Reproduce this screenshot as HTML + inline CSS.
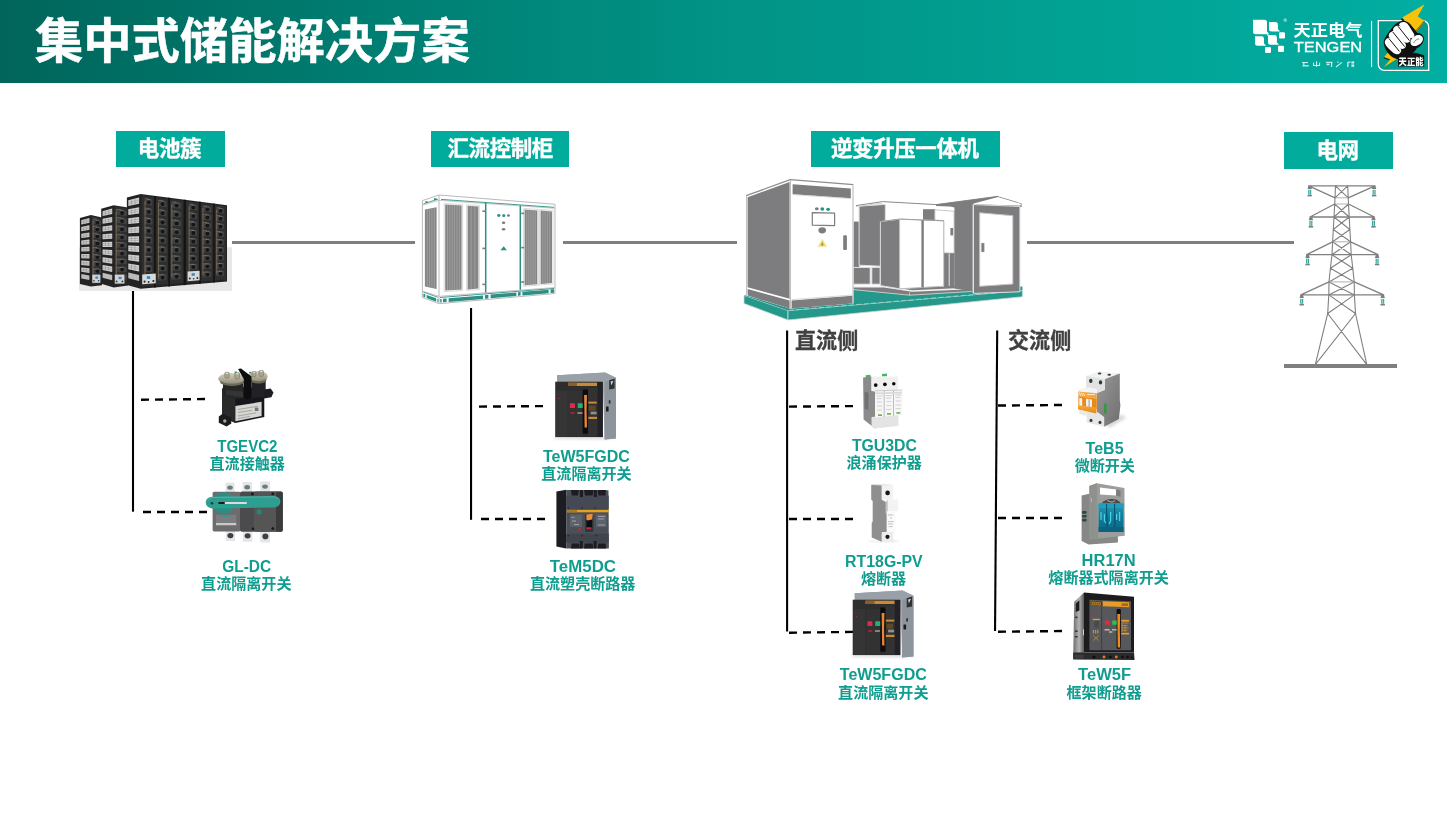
<!DOCTYPE html>
<html lang="zh-CN">
<head>
<meta charset="utf-8">
<title>集中式储能解决方案</title>
<style>
html,body{margin:0;padding:0;background:#fff;}
body{width:1447px;height:816px;position:relative;overflow:hidden;font-family:"Liberation Sans","Noto Sans CJK SC",sans-serif;}
#stage{position:absolute;left:0;top:0;width:1447px;height:816px;will-change:transform;}
#hdr{position:absolute;left:0;top:0;width:1447px;height:82.65px;background:linear-gradient(90deg,#01655b 0%,#007d71 25%,#019386 50%,#01a294 75%,#02aea2 100%);}
#title{position:absolute;left:35px;top:6px;margin:0;font-size:48.3px;line-height:70px;font-weight:700;color:#fff;white-space:nowrap;letter-spacing:0;-webkit-text-stroke:.5px #fff;}
.tag{position:absolute;background:#01ac9d;color:#fff;font-weight:700;font-size:21.5px;letter-spacing:-.4px;text-indent:.4px;text-align:center;white-space:nowrap;height:35.5px;padding-top:.5px;line-height:36px;top:130.9px;-webkit-text-stroke:.35px #fff;}
.hl{position:absolute;height:3px;background:#7f7f7f;}
.vl{position:absolute;width:2px;background:#000;}
.dl{position:absolute;height:2px;background:repeating-linear-gradient(90deg,#000 0 9px,transparent 9px 14px);}
.side{position:absolute;font-size:21.1px;line-height:24px;font-weight:700;color:#404040;white-space:nowrap;-webkit-text-stroke:.3px #404040;}
svg{position:absolute;left:0;top:0;}
.pn{font-family:"Liberation Sans","Noto Sans CJK SC",sans-serif;font-weight:700;fill:#0f9d8f;}
</style>
</head>
<body>
<div id="stage">
<div id="hdr"></div>
<h1 id="title">集中式储能解决方案</h1>

<div class="tag" style="left:116px;width:109px;text-indent:-2px;">电池簇</div>
<div class="tag" style="left:431px;width:138px;">汇流控制柜</div>
<div class="tag" style="left:811px;width:189px;text-indent:-1.4px;">逆变升压一体机</div>
<div class="tag" style="left:1284px;top:131.9px;width:109px;text-indent:-1.8px;height:35.5px;padding-top:1.5px;line-height:37px;">电网</div>

<div class="hl" style="left:232px;top:241px;width:183px;"></div>
<div class="hl" style="left:563px;top:241px;width:174px;"></div>
<div class="hl" style="left:1027px;top:241px;width:267px;"></div>
<div class="hl" style="left:1284px;top:364px;width:113px;height:3.6px;"></div>



<div class="side" style="left:795px;top:328.5px;">直流侧</div>
<div class="side" style="left:1008px;top:328.5px;">交流侧</div>

<svg id="gfx" width="1447" height="816" viewBox="0 0 1447 816">
<!-- header logo -->
<g id="logo">
  <g fill="#fff">
    <path d="M1253 19.8h11.4a2.6 2.6 0 0 1 2.6 2.6v9.2l2.4 2.6h-2.4l-0.2 0h-11.2a2.6 2.6 0 0 1-2.6-2.6z"/>
    <path d="M1269 22h6.4a2.5 2.5 0 0 1 2.5 2.5v4.5l2.2 2.4h-8.6a2.5 2.5 0 0 1-2.5-2.5z"/>
    <rect x="1279" y="32.3" width="6" height="6.2" rx="1.2"/>
    <path d="M1255 36.3h6.6a2.4 2.4 0 0 1 2.4 2.4v4.8l2.2 2.3h-8.8a2.4 2.4 0 0 1-2.4-2.4z"/>
    <path d="M1266.5 33.5l2 1.6h6a2.4 2.4 0 0 1 2.4 2.4v5l2.2 2.3h-8.7a2.4 2.4 0 0 1-2.4-2.4v-6z"/>
    <rect x="1265" y="47" width="6" height="6" rx="1.2"/>
    <rect x="1278" y="45.8" width="6" height="6.1" rx="1.2"/>
  </g>
  <circle cx="1285.2" cy="20.1" r="1.9" fill="#fff" fill-opacity=".45"/>
  <text x="1293.6" y="35.8" font-family="'Liberation Sans','Noto Sans CJK SC',sans-serif" font-weight="700" font-size="16.4" fill="#fff" textLength="68.8" lengthAdjust="spacingAndGlyphs">天正电气</text>
  <text x="1293.8" y="52.4" font-family="'Liberation Sans',sans-serif" font-weight="400" font-size="14.8" fill="#fff" stroke="#fff" stroke-width=".35" textLength="68.4" lengthAdjust="spacingAndGlyphs">TENGEN</text>
  <!-- slogan under the wordmark is illegible in the source (≈5px tall); shown as faint placeholder ticks -->
  <g fill="#fff" fill-opacity=".8">
    <rect x="1302" y="62" width="6" height="1.1"/><rect x="1302.4" y="65.2" width="6.4" height="1.3"/><rect x="1303.2" y="63" width="1.2" height="2.4"/>
    <rect x="1313" y="62.6" width="1.1" height="3.2"/><rect x="1316" y="61.2" width="1.1" height="5.6"/><rect x="1319" y="62.6" width="1.1" height="3.2"/><rect x="1313" y="65" width="7" height="1"/>
    <rect x="1326" y="61.8" width="6.4" height="1.1"/><rect x="1331" y="62" width="1.2" height="5"/><rect x="1326.6" y="63.6" width="3" height="1.6"/>
    <path d="M1335.6 66.6l6-4.6 .7 .8-6 4.6z"/><rect x="1337" y="61.6" width="1.6" height="1"/>
    <rect x="1347.2" y="62" width="1.3" height="5"/><rect x="1348" y="61.6" width="2.6" height="1.1"/><rect x="1351.4" y="61.4" width="2.8" height="2.2"/><rect x="1351.4" y="64.4" width="2.8" height="2.4"/>
  </g>
  <rect x="1371" y="21" width="1.1" height="46" fill="#fff"/>
  <!-- mascot badge -->
  <path d="M1378.3 20.7h44.4a6 6 0 0 1 6 6v43.6h-44.4a6 6 0 0 1-6-6z" fill="#009c8e" stroke="#fff" stroke-width="1.3"/>
  <g id="bolt">
    <path d="M1424.6 4.3l-22.4 13.2 4 4.2 9.400 9.300 8.800-10.200-6.700-4.400z" fill="#f8c20a"/>
    <path d="M1401.800 17.900l-.9 1.500 14.500 12.800 9.300-10.800-.3-.8-8.800 10.200z" fill="#1a1a1a"/>
    <path d="M1424.400 20.800l.4 .900-9.300 10.800-.6-1z" fill="#b88a06"/>
    <path d="M1388.400 52l9.200 6.600-13.600 8.500 6.300-7.700-6.300-2.100z" fill="#f8c20a"/>
    <path d="M1384 57.300l-.6 1 5.600 1.800 1.300-.7z" fill="#1a1a1a"/>
  </g>
  <g id="fist">
    <path d="M1383.800 43.500c-.8-3 2.600-8.600 6.600-13.600 3.200-4.800 7-8 11-9 4.200-1 8 1.600 10.200 4.800l5.800 7.400c3.200 0 6.200 2 6.400 5.200 .2 4-2.800 8-7 10-2 4-6 7-10 8-4 3-8.200 4-12.200 2-5.200-2.200-9.800-8.400-10.800-14.800z" fill="#111"/>
    <path d="M1385 43.600c-.8-2.400 .8-4.800 3.200-5.600 2.200-.8 4.200 .2 5.800 2.400l6.600 8.200c1.200 1.800 .8 3.600-1 4.800-2.200 1.400-4.600 1-6.400-.6-3.200-2.600-7-6-8.200-9.200z" fill="#fff"/>
    <path d="M1388.800 36.800c-.6-2.400 .8-4.600 3.200-5.400 2.200-.8 4.400 0 6 2.200l7.200 9.600c1.200 1.800 1 3.800-.8 5-2 1.200-4.200 .8-5.800-1z" fill="#fff"/>
    <path d="M1393 30.400c0-2.400 1.800-4.200 4-4.600 2.200-.6 4.200 .4 5.600 2.200l7.200 9.400c1.200 1.800 .8 3.800-1 4.800-2 1.200-4 .6-5.600-1.200z" fill="#fff"/>
    <path d="M1399 24.800c.6-2 2.600-3 4.800-2.800 2 .2 3.600 1.400 4.800 3.200l5.200 8.200c1 1.600 .6 3.400-1 4.400-1.800 1-3.600 .4-4.800-1.200z" fill="#fff"/>
    <path d="M1410.800 44c-1-2.800 .6-5.800 3.400-7.600 2.800-1.800 6.400-1.800 8 .4 1.600 2.200 .4 5.200-2.200 7.200-3 2.400-7.800 3.200-9.200 0z" fill="#fff"/>
    <path d="M1413.6 43c1-2.400 3.400-4 5.800-4.200" fill="none" stroke="#8a8a8a" stroke-width="1"/>
    <path d="M1388.800 38.400L1399.400 51.400M1392.800 32L1404.600 46.600M1398 26.200L1409.400 40.600" fill="none" stroke="#111" stroke-width="1"/>
  </g>
  <path d="M1398 56.600l17.600-3.800 8.600 2.400v11.400h-26.200z" fill="#111"/>
  <text x="1398.600" y="65.200" font-family="'Liberation Sans','Noto Sans CJK SC',sans-serif" font-weight="900" font-size="9.4" fill="#fff" textLength="25" lengthAdjust="spacingAndGlyphs">天正能</text>
</g>

<!-- connector lines -->
<g id="lines" stroke="#000" fill="none">
<line x1="133.0" y1="291" x2="133.0" y2="511.7" stroke-width="2.1"/>
<line x1="471.05" y1="308" x2="471.05" y2="519.8" stroke-width="2.1"/>
<line x1="787.1" y1="330.6" x2="787.1" y2="631.4" stroke-width="2.1"/>
<line x1="997.2" y1="330.6" x2="995.05" y2="631.1" stroke-width="2.1"/>
<line x1="141" y1="399.75" x2="205" y2="399.05" stroke-width="2.4" stroke-dasharray="8 6"/>
<line x1="143" y1="512" x2="207" y2="512" stroke-width="2.4" stroke-dasharray="8 6"/>
<line x1="479" y1="406.6" x2="543" y2="406.1" stroke-width="2.4" stroke-dasharray="8 6"/>
<line x1="481" y1="519.0" x2="545" y2="519.0" stroke-width="2.4" stroke-dasharray="8 6"/>
<line x1="789" y1="406.6" x2="853" y2="406.1" stroke-width="2.4" stroke-dasharray="8 6"/>
<line x1="789" y1="519.0" x2="853" y2="519.0" stroke-width="2.4" stroke-dasharray="8 6"/>
<line x1="789" y1="632.7" x2="853" y2="631.9" stroke-width="2.4" stroke-dasharray="8 6"/>
<line x1="998" y1="405.55" x2="1062" y2="405.0" stroke-width="2.4" stroke-dasharray="8 6"/>
<line x1="998" y1="518.0" x2="1062" y2="518.0" stroke-width="2.4" stroke-dasharray="8 6"/>
<line x1="998" y1="631.75" x2="1062" y2="631.05" stroke-width="2.4" stroke-dasharray="8 6"/>
</g>
<!-- battery cluster -->
<g id="battery">
<rect x="79" y="247.3" width="153" height="43.6" fill="#e7e7e7"/>
<path d="M79.9 218L90.9 214.9L102 217.6L102 285.2L90.9 286.6L79.9 284.1Z" fill="#232323"/>
<path d="M91.9 216.1L101 218.79999999999998L101 283.2L91.9 284.40000000000003Z" fill="#2e2e2e"/>
<path d="M81.3 220.3L89.4 218.1L89.4 222.7L81.3 224.6Z" fill="#d4d4d4"/>
<path d="M81.3 221.8L89.4 219.7M81.3 223.2L89.4 221.2M83.7 219.6L83.7 224.0M86.3 218.9L86.3 223.4" stroke="#8f8f8f" stroke-width=".55" fill="none"/>
<path d="M81.3 227.0L89.4 225.2L89.4 229.8L81.3 231.3Z" fill="#d4d4d4"/>
<path d="M81.3 228.6L89.4 226.9M81.3 229.9L89.4 228.4M83.7 226.5L83.7 230.9M86.3 225.9L86.3 230.4" stroke="#8f8f8f" stroke-width=".55" fill="none"/>
<path d="M81.3 233.7L89.4 232.4L89.4 237.0L81.3 238.0Z" fill="#d4d4d4"/>
<path d="M81.3 235.3L89.4 234.1M81.3 236.7L89.4 235.5M83.7 233.3L83.7 237.7M86.3 232.9L86.3 237.4" stroke="#8f8f8f" stroke-width=".55" fill="none"/>
<path d="M81.3 240.5L89.4 239.6L89.4 244.2L81.3 244.8Z" fill="#d4d4d4"/>
<path d="M81.3 242.0L89.4 241.2M81.3 243.4L89.4 242.7M83.7 240.2L83.7 244.6M86.3 239.9L86.3 244.4" stroke="#8f8f8f" stroke-width=".55" fill="none"/>
<path d="M81.3 247.2L89.4 246.8L89.4 251.3L81.3 251.5Z" fill="#d4d4d4"/>
<path d="M81.3 248.7L89.4 248.4M81.3 250.1L89.4 249.9M83.7 247.1L83.7 251.4M86.3 246.9L86.3 251.4" stroke="#8f8f8f" stroke-width=".55" fill="none"/>
<path d="M81.3 253.9L89.4 253.9L89.4 258.5L81.3 258.2Z" fill="#d4d4d4"/>
<path d="M81.3 255.5L89.4 255.6M81.3 256.8L89.4 257.0M83.7 253.9L83.7 258.3M86.3 253.9L86.3 258.4" stroke="#8f8f8f" stroke-width=".55" fill="none"/>
<path d="M81.3 260.6L89.4 261.1L89.4 265.7L81.3 264.9Z" fill="#d4d4d4"/>
<path d="M81.3 262.2L89.4 262.8M81.3 263.6L89.4 264.2M83.7 260.8L83.7 265.2M86.3 260.9L86.3 265.4" stroke="#8f8f8f" stroke-width=".55" fill="none"/>
<path d="M81.3 267.4L89.4 268.3L89.4 272.9L81.3 271.7Z" fill="#d4d4d4"/>
<path d="M81.3 268.9L89.4 269.9M81.3 270.3L89.4 271.4M83.7 267.6L83.7 272.0M86.3 267.9L86.3 272.4" stroke="#8f8f8f" stroke-width=".55" fill="none"/>
<path d="M81.3 274.1L89.4 275.4L89.4 280.0L81.3 278.4Z" fill="#bcbcbc"/>
<path d="M92.5 218.7L101.4 220.8L101.4 225.3L92.5 223.4Z" fill="#414141"/>
<circle cx="97.4" cy="222.4" r="1.9" fill="#151515"/>
<path d="M95.8 220.4h3.4" stroke="#7b8790" stroke-width=".6" fill="none"/>
<path d="M92.5 225.9L101.4 227.6L101.4 232.1L92.5 230.6Z" fill="#414141"/>
<circle cx="97.4" cy="229.3" r="1.9" fill="#151515"/>
<path d="M95.8 227.3h3.4" stroke="#7b8790" stroke-width=".6" fill="none"/>
<path d="M92.5 233.0L101.4 234.4L101.4 238.9L92.5 237.7Z" fill="#414141"/>
<circle cx="97.4" cy="236.3" r="1.9" fill="#151515"/>
<path d="M95.8 234.3h3.4" stroke="#7b8790" stroke-width=".6" fill="none"/>
<path d="M92.5 240.2L101.4 241.2L101.4 245.7L92.5 244.9Z" fill="#414141"/>
<circle cx="97.4" cy="243.2" r="1.9" fill="#151515"/>
<path d="M95.8 241.2h3.4" stroke="#7b8790" stroke-width=".6" fill="none"/>
<path d="M92.5 247.3L101.4 248.0L101.4 252.5L92.5 252.0Z" fill="#414141"/>
<circle cx="97.4" cy="250.2" r="1.9" fill="#151515"/>
<path d="M95.8 248.2h3.4" stroke="#7b8790" stroke-width=".6" fill="none"/>
<path d="M92.5 254.5L101.4 254.8L101.4 259.3L92.5 259.2Z" fill="#414141"/>
<circle cx="97.4" cy="257.1" r="1.9" fill="#151515"/>
<path d="M95.8 255.1h3.4" stroke="#7b8790" stroke-width=".6" fill="none"/>
<path d="M92.5 261.6L101.4 261.6L101.4 266.0L92.5 266.3Z" fill="#414141"/>
<circle cx="97.4" cy="264.1" r="1.9" fill="#151515"/>
<path d="M95.8 262.1h3.4" stroke="#7b8790" stroke-width=".6" fill="none"/>
<path d="M92.5 268.7L101.4 268.4L101.4 272.8L92.5 273.5Z" fill="#414141"/>
<circle cx="97.4" cy="271.0" r="1.9" fill="#151515"/>
<path d="M95.8 269.0h3.4" stroke="#7b8790" stroke-width=".6" fill="none"/>
<path d="M92.5 275.9L101.4 275.1L101.4 279.6L92.5 280.6Z" fill="#414141"/>
<circle cx="97.4" cy="278.0" r="1.9" fill="#151515"/>
<path d="M95.8 276.0h3.4" stroke="#7b8790" stroke-width=".6" fill="none"/>
<path d="M93.0 220.7L93.0 278.7" stroke="#8d7a64" stroke-width=".7" fill="none"/>
<path d="M93.0 219.0h4.0M93.0 226.1h4.0M93.0 233.2h4.0M93.0 240.4h4.0M93.0 247.5h4.0M93.0 254.6h4.0M93.0 261.7h4.0M93.0 268.9h4.0M93.0 276.0h4.0" stroke="#8d7a64" stroke-width=".6" fill="none"/>
<rect x="92.3" y="274.6" width="8" height="8.2" fill="#d4d4d4"/><rect x="95.4" y="276.5" width="2.8" height="2.2" fill="#2a8bd8"/><circle cx="94" cy="280.8" r=".8" fill="#333"/><circle cx="98.6" cy="280.8" r=".8" fill="#333"/>
<path d="M101.2 208.7L113.7 205.3L128 207.4L128 285.6L113.7 287.4L101.2 283.7Z" fill="#232323"/>
<path d="M114.7 206.5L127 208.6L127 283.6L114.7 285.2Z" fill="#2e2e2e"/>
<path d="M102.6 211.2L112.2 208.6L112.2 213.9L102.6 216.1Z" fill="#d4d4d4"/>
<path d="M102.6 212.9L112.2 210.5M102.6 214.5L112.2 212.2M105.5 210.4L105.5 215.4M108.6 209.6L108.6 214.8" stroke="#8f8f8f" stroke-width=".55" fill="none"/>
<path d="M102.6 218.8L112.2 216.9L112.2 222.2L102.6 223.8Z" fill="#d4d4d4"/>
<path d="M102.6 220.6L112.2 218.8M102.6 222.2L112.2 220.5M105.5 218.3L105.5 223.3M108.6 217.7L108.6 222.8" stroke="#8f8f8f" stroke-width=".55" fill="none"/>
<path d="M102.6 226.5L112.2 225.2L112.2 230.5L102.6 231.5Z" fill="#d4d4d4"/>
<path d="M102.6 228.3L112.2 227.1M102.6 229.9L112.2 228.8M105.5 226.1L105.5 231.2M108.6 225.7L108.6 230.9" stroke="#8f8f8f" stroke-width=".55" fill="none"/>
<path d="M102.6 234.2L112.2 233.5L112.2 238.8L102.6 239.2Z" fill="#d4d4d4"/>
<path d="M102.6 236.0L112.2 235.4M102.6 237.6L112.2 237.1M105.5 234.0L105.5 239.1M108.6 233.8L108.6 238.9" stroke="#8f8f8f" stroke-width=".55" fill="none"/>
<path d="M102.6 241.9L112.2 241.8L112.2 247.1L102.6 246.9Z" fill="#d4d4d4"/>
<path d="M102.6 243.7L112.2 243.7M102.6 245.3L112.2 245.4M105.5 241.9L105.5 246.9M108.6 241.8L108.6 247.0" stroke="#8f8f8f" stroke-width=".55" fill="none"/>
<path d="M102.6 249.6L112.2 250.1L112.2 255.4L102.6 254.6Z" fill="#d4d4d4"/>
<path d="M102.6 251.4L112.2 252.0M102.6 253.0L112.2 253.7M105.5 249.8L105.5 254.8M108.6 249.9L108.6 255.1" stroke="#8f8f8f" stroke-width=".55" fill="none"/>
<path d="M102.6 257.3L112.2 258.4L112.2 263.7L102.6 262.3Z" fill="#d4d4d4"/>
<path d="M102.6 259.1L112.2 260.3M102.6 260.7L112.2 262.0M105.5 257.6L105.5 262.7M108.6 258.0L108.6 263.1" stroke="#8f8f8f" stroke-width=".55" fill="none"/>
<path d="M102.6 265.0L112.2 266.6L112.2 271.9L102.6 270.0Z" fill="#d4d4d4"/>
<path d="M102.6 266.8L112.2 268.5M102.6 268.4L112.2 270.2M105.5 265.5L105.5 270.6M108.6 266.0L108.6 271.2" stroke="#8f8f8f" stroke-width=".55" fill="none"/>
<path d="M102.6 272.7L112.2 274.9L112.2 280.2L102.6 277.7Z" fill="#bcbcbc"/>
<path d="M115.7 209.2L127.3 210.9L127.3 216.1L115.7 214.7Z" fill="#414141"/>
<circle cx="122.1" cy="213.0" r="1.9" fill="#151515"/>
<path d="M120.5 210.6h3.4" stroke="#7b8790" stroke-width=".6" fill="none"/>
<path d="M115.7 217.5L127.3 218.8L127.3 224.1L115.7 223.0Z" fill="#414141"/>
<circle cx="122.1" cy="221.1" r="1.9" fill="#151515"/>
<path d="M120.5 218.7h3.4" stroke="#7b8790" stroke-width=".6" fill="none"/>
<path d="M115.7 225.8L127.3 226.8L127.3 232.0L115.7 231.3Z" fill="#414141"/>
<circle cx="122.1" cy="229.2" r="1.9" fill="#151515"/>
<path d="M120.5 226.8h3.4" stroke="#7b8790" stroke-width=".6" fill="none"/>
<path d="M115.7 234.1L127.3 234.7L127.3 239.9L115.7 239.5Z" fill="#414141"/>
<circle cx="122.1" cy="237.3" r="1.9" fill="#151515"/>
<path d="M120.5 234.9h3.4" stroke="#7b8790" stroke-width=".6" fill="none"/>
<path d="M115.7 242.4L127.3 242.6L127.3 247.9L115.7 247.8Z" fill="#414141"/>
<circle cx="122.1" cy="245.4" r="1.9" fill="#151515"/>
<path d="M120.5 243.0h3.4" stroke="#7b8790" stroke-width=".6" fill="none"/>
<path d="M115.7 250.6L127.3 250.6L127.3 255.8L115.7 256.1Z" fill="#414141"/>
<circle cx="122.1" cy="253.5" r="1.9" fill="#151515"/>
<path d="M120.5 251.1h3.4" stroke="#7b8790" stroke-width=".6" fill="none"/>
<path d="M115.7 258.9L127.3 258.5L127.3 263.7L115.7 264.4Z" fill="#414141"/>
<circle cx="122.1" cy="261.5" r="1.9" fill="#151515"/>
<path d="M120.5 259.2h3.4" stroke="#7b8790" stroke-width=".6" fill="none"/>
<path d="M115.7 267.2L127.3 266.4L127.3 271.7L115.7 272.6Z" fill="#414141"/>
<circle cx="122.1" cy="269.6" r="1.9" fill="#151515"/>
<path d="M120.5 267.3h3.4" stroke="#7b8790" stroke-width=".6" fill="none"/>
<path d="M115.7 275.5L127.3 274.4L127.3 279.6L115.7 280.9Z" fill="#414141"/>
<circle cx="122.1" cy="277.7" r="1.9" fill="#151515"/>
<path d="M120.5 275.4h3.4" stroke="#7b8790" stroke-width=".6" fill="none"/>
<path d="M116.2 211.5L116.2 278.7" stroke="#8d7a64" stroke-width=".7" fill="none"/>
<path d="M116.2 209.5h5.2M116.2 217.7h5.2M116.2 226.0h5.2M116.2 234.3h5.2M116.2 242.5h5.2M116.2 250.8h5.2M116.2 259.1h5.2M116.2 267.3h5.2M116.2 275.6h5.2" stroke="#8d7a64" stroke-width=".6" fill="none"/>
<rect x="114.8" y="274.6" width="9.6" height="9" fill="#d4d4d4"/><rect x="118.6" y="276.8" width="3" height="2.3" fill="#2a8bd8"/><circle cx="116.6" cy="281.4" r=".9" fill="#333"/><circle cx="122.4" cy="281.4" r=".9" fill="#333"/>
<path d="M126.9 197.6L140.6 194L227 205.3L227 281.5L140.6 288.8L126.9 285Z" fill="#232323"/>
<path d="M141.6 195.2L226 206.5L226 279.5L141.6 286.6Z" fill="#2e2e2e"/>
<path d="M128.3 200.3L139.1 197.5L139.1 203.7L128.3 206.1Z" fill="#d4d4d4"/>
<path d="M128.3 202.4L139.1 199.8M128.3 204.2L139.1 201.7M131.5 199.5L131.5 205.4M135.0 198.6L135.0 204.6" stroke="#8f8f8f" stroke-width=".55" fill="none"/>
<path d="M128.3 209.3L139.1 207.2L139.1 213.4L128.3 215.1Z" fill="#d4d4d4"/>
<path d="M128.3 211.4L139.1 209.4M128.3 213.2L139.1 211.4M131.5 208.7L131.5 214.6M135.0 208.0L135.0 214.0" stroke="#8f8f8f" stroke-width=".55" fill="none"/>
<path d="M128.3 218.3L139.1 216.9L139.1 223.1L128.3 224.1Z" fill="#d4d4d4"/>
<path d="M128.3 220.4L139.1 219.1M128.3 222.3L139.1 221.1M131.5 217.9L131.5 223.8M135.0 217.4L135.0 223.5" stroke="#8f8f8f" stroke-width=".55" fill="none"/>
<path d="M128.3 227.4L139.1 226.5L139.1 232.7L128.3 233.2Z" fill="#d4d4d4"/>
<path d="M128.3 229.5L139.1 228.8M128.3 231.3L139.1 230.7M131.5 227.1L131.5 233.0M135.0 226.9L135.0 232.9" stroke="#8f8f8f" stroke-width=".55" fill="none"/>
<path d="M128.3 236.4L139.1 236.2L139.1 242.4L128.3 242.2Z" fill="#d4d4d4"/>
<path d="M128.3 238.5L139.1 238.4M128.3 240.3L139.1 240.4M131.5 236.3L131.5 242.2M135.0 236.3L135.0 242.3" stroke="#8f8f8f" stroke-width=".55" fill="none"/>
<path d="M128.3 245.4L139.1 245.9L139.1 252.0L128.3 251.2Z" fill="#d4d4d4"/>
<path d="M128.3 247.5L139.1 248.1M128.3 249.4L139.1 250.1M131.5 245.6L131.5 251.5M135.0 245.7L135.0 251.7" stroke="#8f8f8f" stroke-width=".55" fill="none"/>
<path d="M128.3 254.5L139.1 255.5L139.1 261.7L128.3 260.3Z" fill="#d4d4d4"/>
<path d="M128.3 256.6L139.1 257.7M128.3 258.4L139.1 259.7M131.5 254.8L131.5 260.7M135.0 255.1L135.0 261.2" stroke="#8f8f8f" stroke-width=".55" fill="none"/>
<path d="M128.3 263.5L139.1 265.2L139.1 271.4L128.3 269.3Z" fill="#d4d4d4"/>
<path d="M128.3 265.6L139.1 267.4M128.3 267.4L139.1 269.4M131.5 264.0L131.5 269.9M135.0 264.5L135.0 270.6" stroke="#8f8f8f" stroke-width=".55" fill="none"/>
<path d="M128.3 272.5L139.1 274.9L139.1 281.0L128.3 278.3Z" fill="#bcbcbc"/>
<path d="M144.5 198.4L152.3 199.4L152.3 205.6L144.5 204.8Z" fill="#414141"/>
<circle cx="148.8" cy="202.3" r="1.9" fill="#151515"/>
<path d="M147.2 199.5h3.4" stroke="#7b8790" stroke-width=".6" fill="none"/>
<path d="M144.5 208.0L152.3 208.8L152.3 215.1L144.5 214.4Z" fill="#414141"/>
<circle cx="148.8" cy="211.8" r="1.9" fill="#151515"/>
<path d="M147.2 209.0h3.4" stroke="#7b8790" stroke-width=".6" fill="none"/>
<path d="M144.5 217.7L152.3 218.3L152.3 224.5L144.5 224.0Z" fill="#414141"/>
<circle cx="148.8" cy="221.3" r="1.9" fill="#151515"/>
<path d="M147.2 218.5h3.4" stroke="#7b8790" stroke-width=".6" fill="none"/>
<path d="M144.5 227.3L152.3 227.7L152.3 234.0L144.5 233.6Z" fill="#414141"/>
<circle cx="148.8" cy="230.9" r="1.9" fill="#151515"/>
<path d="M147.2 228.0h3.4" stroke="#7b8790" stroke-width=".6" fill="none"/>
<path d="M144.5 236.9L152.3 237.2L152.3 243.4L144.5 243.3Z" fill="#414141"/>
<circle cx="148.8" cy="240.4" r="1.9" fill="#151515"/>
<path d="M147.2 237.5h3.4" stroke="#7b8790" stroke-width=".6" fill="none"/>
<path d="M144.5 246.5L152.3 246.6L152.3 252.8L144.5 252.9Z" fill="#414141"/>
<circle cx="148.8" cy="249.9" r="1.9" fill="#151515"/>
<path d="M147.2 247.1h3.4" stroke="#7b8790" stroke-width=".6" fill="none"/>
<path d="M144.5 256.1L152.3 256.0L152.3 262.3L144.5 262.5Z" fill="#414141"/>
<circle cx="148.8" cy="259.4" r="1.9" fill="#151515"/>
<path d="M147.2 256.6h3.4" stroke="#7b8790" stroke-width=".6" fill="none"/>
<path d="M144.5 265.8L152.3 265.5L152.3 271.7L144.5 272.1Z" fill="#414141"/>
<circle cx="148.8" cy="268.9" r="1.9" fill="#151515"/>
<path d="M147.2 266.1h3.4" stroke="#7b8790" stroke-width=".6" fill="none"/>
<path d="M144.5 275.4L152.3 274.9L152.3 281.1L144.5 281.7Z" fill="#414141"/>
<circle cx="148.8" cy="278.5" r="1.9" fill="#151515"/>
<path d="M147.2 275.6h3.4" stroke="#7b8790" stroke-width=".6" fill="none"/>
<path d="M145.0 201.0L145.0 279.2" stroke="#8d7a64" stroke-width=".7" fill="none"/>
<path d="M145.0 198.7h3.5M145.0 208.3h3.5M145.0 217.9h3.5M145.0 227.5h3.5M145.0 237.1h3.5M145.0 246.7h3.5M145.0 256.3h3.5M145.0 265.9h3.5M145.0 275.5h3.5" stroke="#8d7a64" stroke-width=".6" fill="none"/>
<path d="M157.9 200.1L166.5 201.2L166.5 207.2L157.9 206.3Z" fill="#414141"/>
<circle cx="162.6" cy="204.0" r="1.9" fill="#151515"/>
<path d="M161.0 201.2h3.4" stroke="#7b8790" stroke-width=".6" fill="none"/>
<path d="M157.9 209.4L166.5 210.3L166.5 216.3L157.9 215.6Z" fill="#414141"/>
<circle cx="162.6" cy="213.2" r="1.9" fill="#151515"/>
<path d="M161.0 210.4h3.4" stroke="#7b8790" stroke-width=".6" fill="none"/>
<path d="M157.9 218.7L166.5 219.4L166.5 225.4L157.9 224.9Z" fill="#414141"/>
<circle cx="162.6" cy="222.3" r="1.9" fill="#151515"/>
<path d="M161.0 219.6h3.4" stroke="#7b8790" stroke-width=".6" fill="none"/>
<path d="M157.9 228.0L166.5 228.5L166.5 234.5L157.9 234.2Z" fill="#414141"/>
<circle cx="162.6" cy="231.5" r="1.9" fill="#151515"/>
<path d="M161.0 228.8h3.4" stroke="#7b8790" stroke-width=".6" fill="none"/>
<path d="M157.9 237.3L166.5 237.6L166.5 243.6L157.9 243.5Z" fill="#414141"/>
<circle cx="162.6" cy="240.7" r="1.9" fill="#151515"/>
<path d="M161.0 238.0h3.4" stroke="#7b8790" stroke-width=".6" fill="none"/>
<path d="M157.9 246.7L166.5 246.7L166.5 252.7L157.9 252.8Z" fill="#414141"/>
<circle cx="162.6" cy="249.9" r="1.9" fill="#151515"/>
<path d="M161.0 247.2h3.4" stroke="#7b8790" stroke-width=".6" fill="none"/>
<path d="M157.9 256.0L166.5 255.8L166.5 261.8L157.9 262.1Z" fill="#414141"/>
<circle cx="162.6" cy="259.1" r="1.9" fill="#151515"/>
<path d="M161.0 256.4h3.4" stroke="#7b8790" stroke-width=".6" fill="none"/>
<path d="M157.9 265.3L166.5 264.9L166.5 271.0L157.9 271.4Z" fill="#414141"/>
<circle cx="162.6" cy="268.3" r="1.9" fill="#151515"/>
<path d="M161.0 265.6h3.4" stroke="#7b8790" stroke-width=".6" fill="none"/>
<path d="M157.9 274.6L166.5 274.0L166.5 280.1L157.9 280.7Z" fill="#414141"/>
<circle cx="162.6" cy="277.5" r="1.9" fill="#151515"/>
<path d="M161.0 274.8h3.4" stroke="#7b8790" stroke-width=".6" fill="none"/>
<path d="M158.4 202.6L158.4 278.3" stroke="#8d7a64" stroke-width=".7" fill="none"/>
<path d="M158.4 200.4h3.9M158.4 209.7h3.9M158.4 219.0h3.9M158.4 228.3h3.9M158.4 237.5h3.9M158.4 246.8h3.9M158.4 256.1h3.9M158.4 265.4h3.9M158.4 274.7h3.9" stroke="#8d7a64" stroke-width=".6" fill="none"/>
<path d="M171.3 201.8L181.2 203.1L181.2 208.8L171.3 207.7Z" fill="#414141"/>
<circle cx="176.7" cy="205.6" r="1.9" fill="#151515"/>
<path d="M175.1 203.0h3.4" stroke="#7b8790" stroke-width=".6" fill="none"/>
<path d="M171.3 210.8L181.2 211.8L181.2 217.6L171.3 216.7Z" fill="#414141"/>
<circle cx="176.7" cy="214.5" r="1.9" fill="#151515"/>
<path d="M175.1 211.9h3.4" stroke="#7b8790" stroke-width=".6" fill="none"/>
<path d="M171.3 219.8L181.2 220.6L181.2 226.4L171.3 225.7Z" fill="#414141"/>
<circle cx="176.7" cy="223.4" r="1.9" fill="#151515"/>
<path d="M175.1 220.7h3.4" stroke="#7b8790" stroke-width=".6" fill="none"/>
<path d="M171.3 228.8L181.2 229.4L181.2 235.1L171.3 234.7Z" fill="#414141"/>
<circle cx="176.7" cy="232.2" r="1.9" fill="#151515"/>
<path d="M175.1 229.6h3.4" stroke="#7b8790" stroke-width=".6" fill="none"/>
<path d="M171.3 237.8L181.2 238.1L181.2 243.9L171.3 243.7Z" fill="#414141"/>
<circle cx="176.7" cy="241.1" r="1.9" fill="#151515"/>
<path d="M175.1 238.5h3.4" stroke="#7b8790" stroke-width=".6" fill="none"/>
<path d="M171.3 246.8L181.2 246.9L181.2 252.7L171.3 252.7Z" fill="#414141"/>
<circle cx="176.7" cy="250.0" r="1.9" fill="#151515"/>
<path d="M175.1 247.3h3.4" stroke="#7b8790" stroke-width=".6" fill="none"/>
<path d="M171.3 255.8L181.2 255.6L181.2 261.4L171.3 261.7Z" fill="#414141"/>
<circle cx="176.7" cy="258.8" r="1.9" fill="#151515"/>
<path d="M175.1 256.2h3.4" stroke="#7b8790" stroke-width=".6" fill="none"/>
<path d="M171.3 264.8L181.2 264.4L181.2 270.2L171.3 270.7Z" fill="#414141"/>
<circle cx="176.7" cy="267.7" r="1.9" fill="#151515"/>
<path d="M175.1 265.1h3.4" stroke="#7b8790" stroke-width=".6" fill="none"/>
<path d="M171.3 273.8L181.2 273.2L181.2 279.0L171.3 279.7Z" fill="#414141"/>
<circle cx="176.7" cy="276.6" r="1.9" fill="#151515"/>
<path d="M175.1 273.9h3.4" stroke="#7b8790" stroke-width=".6" fill="none"/>
<path d="M171.8 204.2L171.8 277.3" stroke="#8d7a64" stroke-width=".7" fill="none"/>
<path d="M171.8 202.1h4.5M171.8 211.0h4.5M171.8 220.0h4.5M171.8 229.0h4.5M171.8 238.0h4.5M171.8 247.0h4.5M171.8 255.9h4.5M171.8 264.9h4.5M171.8 273.9h4.5" stroke="#8d7a64" stroke-width=".6" fill="none"/>
<path d="M188.6 204.0L197.2 205.1L197.2 210.6L188.6 209.7Z" fill="#414141"/>
<circle cx="193.3" cy="207.6" r="1.9" fill="#151515"/>
<path d="M191.7 205.1h3.4" stroke="#7b8790" stroke-width=".6" fill="none"/>
<path d="M188.6 212.6L197.2 213.5L197.2 219.0L188.6 218.3Z" fill="#414141"/>
<circle cx="193.3" cy="216.1" r="1.9" fill="#151515"/>
<path d="M191.7 213.6h3.4" stroke="#7b8790" stroke-width=".6" fill="none"/>
<path d="M188.6 221.2L197.2 221.9L197.2 227.4L188.6 226.8Z" fill="#414141"/>
<circle cx="193.3" cy="224.6" r="1.9" fill="#151515"/>
<path d="M191.7 222.1h3.4" stroke="#7b8790" stroke-width=".6" fill="none"/>
<path d="M188.6 229.8L197.2 230.3L197.2 235.8L188.6 235.4Z" fill="#414141"/>
<circle cx="193.3" cy="233.0" r="1.9" fill="#151515"/>
<path d="M191.7 230.5h3.4" stroke="#7b8790" stroke-width=".6" fill="none"/>
<path d="M188.6 238.4L197.2 238.6L197.2 244.2L188.6 244.0Z" fill="#414141"/>
<circle cx="193.3" cy="241.5" r="1.9" fill="#151515"/>
<path d="M191.7 239.0h3.4" stroke="#7b8790" stroke-width=".6" fill="none"/>
<path d="M188.6 247.0L197.2 247.0L197.2 252.6L188.6 252.6Z" fill="#414141"/>
<circle cx="193.3" cy="250.0" r="1.9" fill="#151515"/>
<path d="M191.7 247.5h3.4" stroke="#7b8790" stroke-width=".6" fill="none"/>
<path d="M188.6 255.5L197.2 255.4L197.2 261.0L188.6 261.2Z" fill="#414141"/>
<circle cx="193.3" cy="258.5" r="1.9" fill="#151515"/>
<path d="M191.7 256.0h3.4" stroke="#7b8790" stroke-width=".6" fill="none"/>
<path d="M188.6 264.1L197.2 263.8L197.2 269.4L188.6 269.8Z" fill="#414141"/>
<circle cx="193.3" cy="267.0" r="1.9" fill="#151515"/>
<path d="M191.7 264.5h3.4" stroke="#7b8790" stroke-width=".6" fill="none"/>
<path d="M188.6 272.7L197.2 272.2L197.2 277.7L188.6 278.4Z" fill="#414141"/>
<circle cx="193.3" cy="275.4" r="1.9" fill="#151515"/>
<path d="M191.7 272.9h3.4" stroke="#7b8790" stroke-width=".6" fill="none"/>
<path d="M189.1 206.3L189.1 276.2" stroke="#8d7a64" stroke-width=".7" fill="none"/>
<path d="M189.1 204.2h3.9M189.1 212.8h3.9M189.1 221.4h3.9M189.1 230.0h3.9M189.1 238.5h3.9M189.1 247.1h3.9M189.1 255.7h3.9M189.1 264.3h3.9M189.1 272.9h3.9" stroke="#8d7a64" stroke-width=".6" fill="none"/>
<path d="M202.4 205.7L211.4 206.9L211.4 212.2L202.4 211.2Z" fill="#414141"/>
<circle cx="207.4" cy="209.3" r="1.9" fill="#151515"/>
<path d="M205.8 206.9h3.4" stroke="#7b8790" stroke-width=".6" fill="none"/>
<path d="M202.4 214.0L211.4 214.9L211.4 220.3L202.4 219.5Z" fill="#414141"/>
<circle cx="207.4" cy="217.4" r="1.9" fill="#151515"/>
<path d="M205.8 215.0h3.4" stroke="#7b8790" stroke-width=".6" fill="none"/>
<path d="M202.4 222.3L211.4 223.0L211.4 228.3L202.4 227.7Z" fill="#414141"/>
<circle cx="207.4" cy="225.6" r="1.9" fill="#151515"/>
<path d="M205.8 223.2h3.4" stroke="#7b8790" stroke-width=".6" fill="none"/>
<path d="M202.4 230.5L211.4 231.1L211.4 236.4L202.4 236.0Z" fill="#414141"/>
<circle cx="207.4" cy="233.7" r="1.9" fill="#151515"/>
<path d="M205.8 231.3h3.4" stroke="#7b8790" stroke-width=".6" fill="none"/>
<path d="M202.4 238.8L211.4 239.1L211.4 244.4L202.4 244.3Z" fill="#414141"/>
<circle cx="207.4" cy="241.9" r="1.9" fill="#151515"/>
<path d="M205.8 239.5h3.4" stroke="#7b8790" stroke-width=".6" fill="none"/>
<path d="M202.4 247.1L211.4 247.2L211.4 252.5L202.4 252.5Z" fill="#414141"/>
<circle cx="207.4" cy="250.0" r="1.9" fill="#151515"/>
<path d="M205.8 247.6h3.4" stroke="#7b8790" stroke-width=".6" fill="none"/>
<path d="M202.4 255.4L211.4 255.2L211.4 260.6L202.4 260.8Z" fill="#414141"/>
<circle cx="207.4" cy="258.2" r="1.9" fill="#151515"/>
<path d="M205.8 255.8h3.4" stroke="#7b8790" stroke-width=".6" fill="none"/>
<path d="M202.4 263.6L211.4 263.3L211.4 268.6L202.4 269.1Z" fill="#414141"/>
<circle cx="207.4" cy="266.3" r="1.9" fill="#151515"/>
<path d="M205.8 263.9h3.4" stroke="#7b8790" stroke-width=".6" fill="none"/>
<path d="M202.4 271.9L211.4 271.4L211.4 276.7L202.4 277.4Z" fill="#414141"/>
<circle cx="207.4" cy="274.5" r="1.9" fill="#151515"/>
<path d="M205.8 272.1h3.4" stroke="#7b8790" stroke-width=".6" fill="none"/>
<path d="M202.9 208.0L202.9 275.2" stroke="#8d7a64" stroke-width=".7" fill="none"/>
<path d="M202.9 206.0h4.1M202.9 214.2h4.1M202.9 222.5h4.1M202.9 230.7h4.1M202.9 239.0h4.1M202.9 247.3h4.1M202.9 255.5h4.1M202.9 263.8h4.1M202.9 272.0h4.1" stroke="#8d7a64" stroke-width=".6" fill="none"/>
<path d="M216.2 207.5L224.0 208.5L224.0 213.6L216.2 212.7Z" fill="#414141"/>
<circle cx="220.5" cy="210.8" r="1.9" fill="#151515"/>
<path d="M218.9 208.5h3.4" stroke="#7b8790" stroke-width=".6" fill="none"/>
<path d="M216.2 215.4L224.0 216.2L224.0 221.4L216.2 220.7Z" fill="#414141"/>
<circle cx="220.5" cy="218.7" r="1.9" fill="#151515"/>
<path d="M218.9 216.4h3.4" stroke="#7b8790" stroke-width=".6" fill="none"/>
<path d="M216.2 223.4L224.0 224.0L224.0 229.1L216.2 228.6Z" fill="#414141"/>
<circle cx="220.5" cy="226.5" r="1.9" fill="#151515"/>
<path d="M218.9 224.2h3.4" stroke="#7b8790" stroke-width=".6" fill="none"/>
<path d="M216.2 231.3L224.0 231.8L224.0 236.9L216.2 236.6Z" fill="#414141"/>
<circle cx="220.5" cy="234.4" r="1.9" fill="#151515"/>
<path d="M218.9 232.1h3.4" stroke="#7b8790" stroke-width=".6" fill="none"/>
<path d="M216.2 239.3L224.0 239.5L224.0 244.7L216.2 244.5Z" fill="#414141"/>
<circle cx="220.5" cy="242.2" r="1.9" fill="#151515"/>
<path d="M218.9 239.9h3.4" stroke="#7b8790" stroke-width=".6" fill="none"/>
<path d="M216.2 247.2L224.0 247.3L224.0 252.4L216.2 252.5Z" fill="#414141"/>
<circle cx="220.5" cy="250.1" r="1.9" fill="#151515"/>
<path d="M218.9 247.8h3.4" stroke="#7b8790" stroke-width=".6" fill="none"/>
<path d="M216.2 255.2L224.0 255.1L224.0 260.2L216.2 260.4Z" fill="#414141"/>
<circle cx="220.5" cy="257.9" r="1.9" fill="#151515"/>
<path d="M218.9 255.6h3.4" stroke="#7b8790" stroke-width=".6" fill="none"/>
<path d="M216.2 263.1L224.0 262.8L224.0 268.0L216.2 268.4Z" fill="#414141"/>
<circle cx="220.5" cy="265.8" r="1.9" fill="#151515"/>
<path d="M218.9 263.5h3.4" stroke="#7b8790" stroke-width=".6" fill="none"/>
<path d="M216.2 271.1L224.0 270.6L224.0 275.7L216.2 276.3Z" fill="#414141"/>
<circle cx="220.5" cy="273.6" r="1.9" fill="#151515"/>
<path d="M218.9 271.3h3.4" stroke="#7b8790" stroke-width=".6" fill="none"/>
<path d="M216.7 209.6L216.7 274.2" stroke="#8d7a64" stroke-width=".7" fill="none"/>
<path d="M216.7 207.7h3.5M216.7 215.6h3.5M216.7 223.6h3.5M216.7 231.5h3.5M216.7 239.4h3.5M216.7 247.4h3.5M216.7 255.3h3.5M216.7 263.3h3.5M216.7 271.2h3.5" stroke="#8d7a64" stroke-width=".6" fill="none"/>
<path d="M154.9 195.9L154.9 287.6" stroke="#141414" stroke-width="1.8"/>
<path d="M169.1 197.7L169.1 286.4" stroke="#141414" stroke-width="1.8"/>
<path d="M184.8 199.8L184.8 285.1" stroke="#141414" stroke-width="2.4"/>
<path d="M199.8 201.7L199.8 283.8" stroke="#141414" stroke-width="1.8"/>
<path d="M213.9 203.6L213.9 282.6" stroke="#141414" stroke-width="1.6"/>
<path d="M142.2 274.4L155.8 273.4L155.8 283.2L142.2 284.2Z" fill="#d9d9d9"/><rect x="146.8" y="276.2" width="3.4" height="2.7" fill="#2a8bd8"/><circle cx="144.6" cy="281.6" r="1.1" fill="#2b2b2b"/><circle cx="148.6" cy="282" r=".9" fill="#2b2b2b"/><circle cx="153.4" cy="281" r="1.1" fill="#2b2b2b"/>
<path d="M187.6 271.6L199.6 270.8L199.6 280.2L187.6 281.2Z" fill="#d9d9d9"/><rect x="191.6" y="273.2" width="3.2" height="2.6" fill="#2a8bd8"/><circle cx="189.8" cy="278.6" r="1" fill="#2b2b2b"/><circle cx="193.6" cy="278.8" r=".8" fill="#2b2b2b"/><circle cx="197.4" cy="278" r="1" fill="#2b2b2b"/>
</g>
<!-- combiner control cabinet -->
<g id="cabinet">
<path d="M422.4 200.6L439.0 195.0L555.0 204.3L555.0 293.5L439.0 303.7L422.4 297.5Z" fill="#fff" stroke="#b9b9b9" stroke-width="1"/>
<path d="M439.0 195.0L439.0 303.7" stroke="#c4c4c4" stroke-width="1.2"/>
<path d="M422.4 205.2L439.0 200.4L555.0 208.3" fill="none" stroke="#bdbdbd" stroke-width=".8"/>
<path d="M441.0 199.4L554.0 207.3" fill="none" stroke="#2b8f84" stroke-width=".9"/>
<path d="M423.4 203.79999999999998L438.0 199.2" fill="none" stroke="#2b8f84" stroke-width=".8"/>
<rect x="425.3" y="201.2" width="2.4" height="1.6" fill="#2b8f84"/><rect x="434" y="198.2" width="2.6" height="1.8" fill="#2b8f84"/>
<path d="M424.9 209.6L436.6 207.2L436.6 289.0L424.9 286.4Z" fill="#858585"/><path d="M427.24 209.4L427.24 286.6" stroke="#b9b9b9" stroke-width="0.50"/><path d="M429.58 208.9L429.58 287.1" stroke="#b9b9b9" stroke-width="0.50"/><path d="M431.92 208.5L431.92 287.7" stroke="#b9b9b9" stroke-width="0.50"/><path d="M434.26 208.0L434.26 288.2" stroke="#b9b9b9" stroke-width="0.50"/>
<path d="M444.2 203.6L462.6 204.4L462.6 290.4L444.2 291.6Z" fill="#fff" stroke="#c9c9c9" stroke-width=".7"/><path d="M445.2 204.6L461.6 205.4L461.6 289.4L445.2 290.6Z" fill="#858585"/><path d="M447.54 205.0L447.54 290.1" stroke="#b9b9b9" stroke-width="0.50"/><path d="M449.89 205.1L449.89 290.0" stroke="#b9b9b9" stroke-width="0.50"/><path d="M452.23 205.2L452.23 289.8" stroke="#b9b9b9" stroke-width="0.50"/><path d="M454.57 205.4L454.57 289.6" stroke="#b9b9b9" stroke-width="0.50"/><path d="M456.91 205.5L456.91 289.4" stroke="#b9b9b9" stroke-width="0.50"/><path d="M459.26 205.6L459.26 289.3" stroke="#b9b9b9" stroke-width="0.50"/>
<path d="M466.6 204.8L479.4 205.4L479.4 289.6L466.6 290.4Z" fill="#fff" stroke="#c9c9c9" stroke-width=".7"/><path d="M467.6 205.8L478.4 206.4L478.4 288.6L467.6 289.4Z" fill="#858585"/><path d="M471.20 206.3L471.20 288.8" stroke="#b9b9b9" stroke-width="0.50"/><path d="M474.80 206.5L474.80 288.6" stroke="#b9b9b9" stroke-width="0.50"/>
<path d="M523.6 208.6L538.3 209.4L538.3 285.2L523.6 286.2Z" fill="#fff" stroke="#c9c9c9" stroke-width=".7"/><path d="M524.6 209.6L537.3 210.4L537.3 284.2L524.6 285.2Z" fill="#858585"/><path d="M526.72 210.0L526.72 284.7" stroke="#b9b9b9" stroke-width="0.50"/><path d="M528.83 210.2L528.83 284.6" stroke="#b9b9b9" stroke-width="0.50"/><path d="M530.95 210.3L530.95 284.4" stroke="#b9b9b9" stroke-width="0.50"/><path d="M533.07 210.4L533.07 284.2" stroke="#b9b9b9" stroke-width="0.50"/><path d="M535.18 210.6L535.18 284.1" stroke="#b9b9b9" stroke-width="0.50"/>
<path d="M539.6 209.6L553.0 210.4L553.0 284.0L539.6 284.9Z" fill="#fff" stroke="#c9c9c9" stroke-width=".7"/><path d="M540.6 210.6L552.0 211.4L552.0 283.0L540.6 283.9Z" fill="#858585"/><path d="M542.88 211.1L542.88 283.4" stroke="#b9b9b9" stroke-width="0.50"/><path d="M545.16 211.2L545.16 283.2" stroke="#b9b9b9" stroke-width="0.50"/><path d="M547.44 211.4L547.44 283.1" stroke="#b9b9b9" stroke-width="0.50"/><path d="M549.72 211.5L549.72 282.9" stroke="#b9b9b9" stroke-width="0.50"/>
<path d="M485.7 202.74405172413793L485.7 293.09362068965515" stroke="#2b8f84" stroke-width="1.5"/>
<path d="M520.3 205.5180172413793L520.3 290.0512068965517" stroke="#2b8f84" stroke-width="1.5"/>
<rect x="482.4" y="210.39999999999998" width="3" height="1.6" fill="#7d7d7d"/>
<rect x="482.4" y="247.6" width="3" height="1.6" fill="#7d7d7d"/>
<rect x="482.4" y="283.59999999999997" width="3" height="1.6" fill="#7d7d7d"/>
<rect x="521.2" y="212.6" width="3" height="1.6" fill="#7d7d7d"/>
<rect x="521.2" y="246.79999999999998" width="3" height="1.6" fill="#7d7d7d"/>
<rect x="521.2" y="281.2" width="3" height="1.6" fill="#7d7d7d"/>
<ellipse cx="498.8" cy="215.5" rx="1.6" ry="1.4" fill="#2b8f84"/><ellipse cx="503.8" cy="215.7" rx="1.6" ry="1.4" fill="#2b8f84"/><ellipse cx="508.5" cy="215.5" rx="1.5" ry="1.3" fill="#7a7a7a"/>
<ellipse cx="503.6" cy="222.7" rx="1.7" ry="1.3" fill="#7a7a7a"/><ellipse cx="503.6" cy="229.3" rx="1.7" ry="1.3" fill="#7a7a7a"/>
<path d="M503.7 246.2L506.9 250.2L500.5 250.2Z" fill="#2b8f84"/>
<path d="M422.4 291.1L439.0 296.3L555.0 287.5" fill="none" stroke="#c0c0c0" stroke-width=".9"/>
<path d="M440.0 297.5L554.0 288.5" fill="none" stroke="#2b8f84" stroke-width=".9"/>
<path d="M423.4 292.1L438.0 297.3" fill="none" stroke="#2b8f84" stroke-width=".8"/>
<path d="M423.4 293.7L425.2 294.1L425.2 297.5L423.4 296.9Z" fill="#2b8f84"/>
<path d="M426.6 294.9L436.2 298.3L436.2 301.7L426.6 298.1Z" fill="#2b8f84"/>
<path d="M437.4 298.9L438.4 299.1L438.4 302.5L437.4 302.1Z" fill="#2b8f84"/>
<path d="M440.2 299.0L441.6 299.1L441.6 302.6L440.2 302.6Z" fill="#2b8f84"/>
<path d="M443.0 298.7L446.6 298.6L446.6 302.1L443.0 302.3Z" fill="#2b8f84"/>
<path d="M448.6 298.3L483.0 295.4L483.0 298.9L448.6 301.9Z" fill="#2b8f84"/>
<path d="M485.0 295.1L488.4 295.0L488.4 298.5L485.0 298.7Z" fill="#2b8f84"/>
<path d="M490.6 294.6L516.4 292.5L516.4 296.0L490.6 298.2Z" fill="#2b8f84"/>
<path d="M518.0 292.2L520.6 292.1L520.6 295.6L518.0 295.8Z" fill="#2b8f84"/>
<path d="M522.4 291.8L548.6 289.7L548.6 293.2L522.4 295.4Z" fill="#2b8f84"/>
<path d="M550.6 289.3L554.0 289.2L554.0 292.7L550.6 292.9Z" fill="#2b8f84"/>
</g>
<!-- inverter / step-up integrated unit -->
<g id="inverter" stroke-linejoin="round">
  <!-- platform -->
  <path d="M744 295.4L788 310.6L788 320L744 303.5Z" fill="#24998b" stroke="#cfd8d6" stroke-width=".8"/>
  <path d="M788 310.6L1022.4 290.6L1022.4 296.8L788 320Z" fill="#24998b" stroke="#cfd8d6" stroke-width=".8"/>
  <path d="M744 295.4L853 287.4L1022.4 286.6L1022.4 290.6L788 310.6Z" fill="#24998b"/>
  <path d="M789 310.4L1022 290.5" fill="none" stroke="#9fd6cf" stroke-width=".9" stroke-dasharray="5 2.5"/>
  <!-- transformer floor plate -->
  <path d="M853.2 286.4L972.6 286.4L972.6 291.6L909.6 295.4L853.2 289.8Z" fill="#7d7d7f"/>
  <path d="M853.6 286.8L884 286.6L912 291L972 288.4" fill="none" stroke="#f2f2f2" stroke-width="1.6"/>
  <path d="M853.2 289.6L909.6 295.2L972.6 291.4" fill="none" stroke="#dcdcdc" stroke-width=".8"/>
  <path d="M909.6 292.4L909.6 295.4" stroke="#dcdcdc" stroke-width=".8"/>

  <!-- back enclosure -->
  <path d="M855.9 204.9L882.6 201.5L950 205L950 222L886 222L886 206.4L859 206.4L859 265.8L853.4 265.8L853.4 221.6L856 221.6Z" fill="#fff"/>
  <rect x="853.4" y="221.6" width="6" height="46" fill="#7d7d7f"/>
  <path d="M859.1 206.2L885.3 204.4L885.3 266.4L859.1 265.2Z" fill="#7d7d7f" stroke="#dedede" stroke-width="1"/>
  <path d="M855.9 205.6L882.6 201.6L936 204.6L998.1 196.3" fill="none" stroke="#8a8a8a" stroke-width="1"/>
  <path d="M855.9 206.6L882.6 203" fill="none" stroke="#c9c9c9" stroke-width=".8"/>
  <rect x="853.2" y="267.4" width="17" height="16.8" fill="#7d7d7f" stroke="#e4e4e4" stroke-width="1"/>
  <rect x="871.8" y="267.4" width="8.4" height="16.8" fill="#7d7d7f" stroke="#e4e4e4" stroke-width="1"/>
  <!-- rear gray box + open panel -->
  <rect x="923" y="209.2" width="12" height="11.6" fill="#7d7d7f"/>
  <path d="M934.9 209.9L954 211.2L954 253.4L943.8 252.6L943.8 220.6L934.9 220Z" fill="#fff" stroke="#c4c4c4" stroke-width=".9"/>
  <rect x="950.4" y="228" width="2.7" height="7.4" fill="#7d7d7f"/>
  <rect x="944" y="253.2" width="10.6" height="34" fill="#7d7d7f"/>
  <path d="M949.2 253.4L949.2 286" stroke="#e6e6e6" stroke-width="1"/>
  <!-- front transformer box -->
  <path d="M880.4 221.6L899.6 219.1L899.6 288.8L880.4 285.6Z" fill="#7d7d7f" stroke="#dedede" stroke-width="1"/>
  <path d="M899.6 219.1L943.7 220.8L943.7 286.2L899.6 288.8Z" fill="#fff" stroke="#bdbdbd" stroke-width="1"/>
  <path d="M921.4 220L923.8 220.1L923.8 287.4L921.4 287.5Z" fill="#7d7d7f"/>
  <path d="M880.4 221.6L899.6 219.1L943.7 220.8" fill="none" stroke="#9a9a9a" stroke-width=".9"/>

  <!-- right cabinet -->
  <path d="M954.4 206.4L973.1 204.2L973.1 291.5L954.4 288.4Z" fill="#7d7d7f"/>
  <path d="M936 204.6L998.1 196.3L1021.6 203.4L1021.6 207L973.4 205.2L954.4 207.4L950 206.6L936 206Z" fill="#7d7d7f"/>
  <path d="M973.6 203.4L998.1 197L1020.8 203.8L1020.8 205.6L973.6 204.2Z" fill="#fff"/>
  <path d="M973.4 204.6L1019.9 206.4L1019.9 291.8L973.4 293.4Z" fill="#7d7d7f" stroke="#dedede" stroke-width="1"/>
  <path d="M979.7 212.8L1012.8 215.7L1012.8 284L979.7 286.3Z" fill="#fff" stroke="#c6c6c6" stroke-width="1"/>
  <rect x="981.2" y="242.9" width="3.2" height="9.2" rx=".6" fill="#7d7d7f" stroke="#d8d8d8" stroke-width=".5"/>
  <path d="M973.2 204.4L973.2 293" stroke="#e4e4e4" stroke-width="1.1"/>

  <!-- left (inverter) cabinet -->
  <path d="M746.2 195.7L790.3 179.6L853.5 184.7L853.5 303.5L790.3 308.7L746.2 295.4Z" fill="#fff"/>
  <path d="M747.6 197.2L789.6 182L789.6 298.8L747.6 287.2Z" fill="#7d7d7f"/>
  <path d="M747.6 289L789.6 300.6L789.6 308.6L747.6 295.6Z" fill="#7d7d7f"/>
  <path d="M746.2 195.7L790.3 179.6L853.5 184.7" fill="none" stroke="#8e8e8e" stroke-width="1.3"/>
  <path d="M746.6 196L746.6 295.2M790.4 180.6L790.4 308.6M853 185.6L853 303" fill="none" stroke="#c2c2c2" stroke-width="1.2"/>
  <path d="M792.6 184.2L850.8 188.6L850.8 198.2L792.6 194.2Z" fill="#7d7d7f"/>
  <path d="M792.6 194.6L850.8 198.6" fill="none" stroke="#cfcfcf" stroke-width=".8"/>
  <path d="M791.6 300.4L852.4 295.8L852.4 303.4L791.6 308.6Z" fill="#7d7d7f"/>
  <path d="M791.6 299.6L852.4 295" fill="none" stroke="#cfcfcf" stroke-width=".8"/>
  <ellipse cx="816.8" cy="208.8" rx="1.9" ry="1.5" fill="#7d7d7f"/>
  <ellipse cx="822.3" cy="209" rx="1.9" ry="1.7" fill="#1f9688"/>
  <ellipse cx="828.1" cy="209.3" rx="1.9" ry="1.6" fill="#1f9688"/>
  <path d="M812.3 212.6L834.6 213.2L834.6 225.6L812.3 225.2Z" fill="#fff" stroke="#7d7d7f" stroke-width="1.2"/>
  <ellipse cx="822.2" cy="230.3" rx="3.8" ry="3.1" fill="#7d7d7f"/>
  <path d="M822.3 239L827 246.8L817.6 246.8Z" fill="#f2dc6a" stroke="#f5efc9" stroke-width=".8"/>
  <path d="M822.3 241.8L823.6 245.4L821 245.4Z" fill="#9c8f4e"/>
  <rect x="843.2" y="235.2" width="3.7" height="14.8" rx="1.2" fill="#7d7d7f"/>
</g>

<!-- power grid tower -->
<g id="tower" fill="none" stroke="#808080" stroke-width="1.1" stroke-linecap="round">
<path d="M1335.5 185.8L1335.0 197.8L1334.7 204.0L1334.0 217.0L1333.3 229.5L1332.6 241.8L1332.0 254.7L1330.4 268.3L1329.0 281.9L1328.8 294.9L1327.7 313.5L1315.3 364.6M1347.7 185.8L1348.2 197.8L1348.5 204.0L1349.2 217.0L1349.9 229.5L1350.6 241.8L1351.2 254.7L1352.8 268.3L1354.2 281.9L1354.4 294.9L1355.5 313.5L1366.8 364.6M1335.5 185.8L1348.2 197.8M1347.7 185.8L1335.0 197.8M1334.7 204.0L1349.2 217.0M1348.5 204.0L1334.0 217.0M1334.0 217.0L1349.9 229.5M1349.2 217.0L1333.3 229.5M1333.3 229.5L1350.6 241.8M1349.9 229.5L1332.6 241.8M1332.6 241.8L1351.2 254.7M1350.6 241.8L1332.0 254.7M1332.0 254.7L1352.8 268.3M1351.2 254.7L1330.4 268.3M1330.4 268.3L1354.2 281.9M1352.8 268.3L1329.0 281.9M1329.0 281.9L1354.4 294.9M1354.2 281.9L1328.8 294.9M1328.8 294.9L1355.5 313.5M1354.4 294.9L1327.7 313.5M1327.7 313.5L1366.8 364.6M1355.5 313.5L1315.3 364.6"/>
<path d="M1335.0 197.8H1348.2M1334.7 204H1348.5M1332.6 241.8H1350.6M1329.0 281.9H1354.2" stroke="#a8a8a8" stroke-width=".9"/>
<path d="M1308.8 185.8H1375M1308.8 185.8L1335.0 197.8M1375 185.8L1348.2 197.8M1310 217H1374.4M1310 217L1334.7 204M1374.4 217L1348.5 204M1306.7 254.7H1378M1306.7 254.7L1332.6 241.8M1378 254.7L1350.6 241.8M1300.8 294.9H1383.6M1300.8 294.9L1329.0 281.9M1383.6 294.9L1354.2 281.9" stroke-width="1.3"/>
</g>
<g id="insulators">
<path d="M1308.4 186.0h2.6l.9 3h-4.4z" fill="#7d7d7d"/>
<rect x="1308.2" y="189.8" width="3" height="4.8" fill="#2aa69a"/>
<rect x="1309.30" y="190.0" width=".8" height="4.4" fill="#bfe7e2"/>
<rect x="1307.5" y="194.8" width="4.4" height="1.6" fill="#7d7d7d"/>
<path d="M1372.8 186.0h2.6l.9 3h-4.4z" fill="#7d7d7d"/>
<rect x="1372.6" y="189.8" width="3" height="4.8" fill="#2aa69a"/>
<rect x="1373.70" y="190.0" width=".8" height="4.4" fill="#bfe7e2"/>
<rect x="1371.9" y="194.8" width="4.4" height="1.6" fill="#7d7d7d"/>
<path d="M1309.6 217.2h2.6l.9 3h-4.4z" fill="#7d7d7d"/>
<rect x="1309.4" y="221.0" width="3" height="4.8" fill="#2aa69a"/>
<rect x="1310.50" y="221.2" width=".8" height="4.4" fill="#bfe7e2"/>
<rect x="1308.7" y="226.0" width="4.4" height="1.6" fill="#7d7d7d"/>
<path d="M1372.2 217.2h2.6l.9 3h-4.4z" fill="#7d7d7d"/>
<rect x="1372.0" y="221.0" width="3" height="4.8" fill="#2aa69a"/>
<rect x="1373.10" y="221.2" width=".8" height="4.4" fill="#bfe7e2"/>
<rect x="1371.3" y="226.0" width="4.4" height="1.6" fill="#7d7d7d"/>
<path d="M1306.3 254.9h2.6l.9 3h-4.4z" fill="#7d7d7d"/>
<rect x="1306.1" y="258.7" width="3" height="4.8" fill="#2aa69a"/>
<rect x="1307.20" y="258.9" width=".8" height="4.4" fill="#bfe7e2"/>
<rect x="1305.4" y="263.7" width="4.4" height="1.6" fill="#7d7d7d"/>
<path d="M1375.8 254.9h2.6l.9 3h-4.4z" fill="#7d7d7d"/>
<rect x="1375.6" y="258.7" width="3" height="4.8" fill="#2aa69a"/>
<rect x="1376.70" y="258.9" width=".8" height="4.4" fill="#bfe7e2"/>
<rect x="1374.9" y="263.7" width="4.4" height="1.6" fill="#7d7d7d"/>
<path d="M1300.4 295.1h2.6l.9 3h-4.4z" fill="#7d7d7d"/>
<rect x="1300.2" y="298.9" width="3" height="4.8" fill="#2aa69a"/>
<rect x="1301.30" y="299.1" width=".8" height="4.4" fill="#bfe7e2"/>
<rect x="1299.5" y="303.9" width="4.4" height="1.6" fill="#7d7d7d"/>
<path d="M1381.4 295.1h2.6l.9 3h-4.4z" fill="#7d7d7d"/>
<rect x="1381.2" y="298.9" width="3" height="4.8" fill="#2aa69a"/>
<rect x="1382.30" y="299.1" width=".8" height="4.4" fill="#bfe7e2"/>
<rect x="1380.5" y="303.9" width="4.4" height="1.6" fill="#7d7d7d"/>
</g>
<!-- product illustrations -->
<defs>
  <filter id="soft" x="-5%" y="-5%" width="110%" height="110%"><feGaussianBlur stdDeviation="0.45"/></filter>
  <filter id="soft3" x="-20%" y="-50%" width="140%" height="200%"><feGaussianBlur stdDeviation="0.8"/></filter>
  <filter id="soft2" x="-20%" y="-20%" width="140%" height="140%"><feGaussianBlur stdDeviation="1.6"/></filter>
  <linearGradient id="gSil" x1="0" y1="0" x2="0" y2="1"><stop offset="0" stop-color="#d8d2bd"/><stop offset="1" stop-color="#8f8a78"/></linearGradient>
  <linearGradient id="gMet" x1="0" y1="0" x2="1" y2="0"><stop offset="0" stop-color="#8b929a"/><stop offset="1" stop-color="#a9aeb4"/></linearGradient>
  <linearGradient id="gSide" x1="0" y1="0" x2="1" y2="0"><stop offset="0" stop-color="#6d6d6d"/><stop offset=".55" stop-color="#b4b4b4"/><stop offset="1" stop-color="#5a5a5a"/></linearGradient>
  <linearGradient id="gBlue" x1="0" y1="0" x2="0" y2="1"><stop offset="0" stop-color="#2399b9"/><stop offset=".5" stop-color="#117d9b"/><stop offset="1" stop-color="#0e6682"/></linearGradient>
  <linearGradient id="gMcb" x1="0" y1="0" x2="1" y2="1"><stop offset="0" stop-color="#9a9a9a"/><stop offset="1" stop-color="#6e6e6e"/></linearGradient>
  <linearGradient id="gOr" x1="0" y1="0" x2="0" y2="1"><stop offset="0" stop-color="#f5a93a"/><stop offset="1" stop-color="#e8860f"/></linearGradient>

</defs>

<g id="prod-tgevc2" filter="url(#soft)">
  <path d="M222 388.500L231 386L264.300 388.500L264.300 417L235.400 423L222 416.500Z" fill="#19191b"/>
  <path d="M222 388.500L235.400 394L235.400 423L222 416.500Z" fill="#2a2a2c"/>
  <path d="M223 383L243.500 381.500L243.500 398.500L232 398.500L223 394Z" fill="#262628"/>
  <path d="M251.500 381.500L265.700 381L265.700 396.500L251.500 398Z" fill="#232325"/>
  <path d="M226 390L243 391.500L243 397.500L226 395Z" fill="#343437"/>
  <path d="M264 389.600L270.600 388.400L273.500 392.400L271.400 397.200L264 398.600Z" fill="#1f1f21"/>
  <path d="M218.400 378.200c.6-3 5.600-5.300 13.200-5.300 8.400 0 13.400 2.700 13.400 6.300 0 3.300-5.600 5.300-13.400 5.300-8 0-13.800-2.600-13.200-6.300z" fill="url(#gSil)"/>
  <path d="M247.800 376.400c.4-3.200 4.400-5.400 10.200-5.400 6 0 9.600 2.200 9.600 5.400 0 3.200-4.200 5.400-9.800 5.400-5.800 0-10.400-2.200-10-5.400z" fill="url(#gSil)"/>
  <path d="M220 380.800c3 2 7 3 12 3s9-1 12-3l-.6 2.800c-3 1.600-7 2.400-11.400 2.400s-8.400-.8-11.400-2.400z" fill="#6d6958"/>
  <path d="M249 378.600c2.400 1.800 5.400 2.600 9 2.600s6.400-.8 8.600-2.400l-.6 2.600c-2 1.400-5 2-8 2-3.400 0-6.400-.8-8.400-2.200z" fill="#6d6958"/>
  <g fill="#a9a48f" stroke="#6f6b5c" stroke-width=".5">
    <rect x="224.800" y="372.200" width="4.400" height="5.800" rx="1.200"/><rect x="234.800" y="372.600" width="4.800" height="6.400" rx="1.200"/>
    <rect x="252" y="371.600" width="4" height="5.200" rx="1.200"/><rect x="259" y="370.400" width="4.400" height="6" rx="1.200"/>
  </g>
  <g fill="#ddd8c4"><rect x="225.600" y="372.400" width="2.800" height="1.600" rx=".8"/><rect x="235.800" y="372.800" width="3" height="1.600" rx=".8"/><rect x="252.800" y="371.800" width="2.600" height="1.400" rx=".7"/><rect x="259.800" y="370.600" width="2.800" height="1.600" rx=".8"/></g>
  <rect x="234.600" y="371.400" width="2.200" height="1.500" fill="#2c9d88"/>
  <rect x="249.200" y="371.800" width="2.200" height="1.500" fill="#2c9d88"/>
  <path d="M238.100 369L241 368.600L251.500 376.400L251.500 397L247.600 399.400L243.800 397.400L243.800 379Z" fill="#0e0e0f"/>
  <path d="M235.400 406L261.600 401.800L261.600 416L235.400 421.200Z" fill="#d6d6d3"/>
  <path d="M238 409.500L258 406.200M238 412.500L252 410.200M238 416L256 412.800M238 418.600L250 416.400" stroke="#8f8f8d" stroke-width=".7" fill="none"/>
  <rect x="254.800" y="407.600" width="3.600" height="3.400" fill="#77777a"/>
  <path d="M218.800 416.600L222.600 413.800L231.300 417.400L231.300 423.400L226.600 426.600L218.800 422.800Z" fill="#1b1b1d"/>
  <circle cx="224.800" cy="421" r="1.700" fill="#a9a697"/>
</g>

<g id="prod-gldc" filter="url(#soft)">
  <g fill="#e3e5e6">
    <rect x="225.400" y="482.600" width="9.200" height="10" /><rect x="242.500" y="482" width="9.500" height="10.400"/><rect x="260.200" y="481.400" width="9.800" height="11"/>
    <rect x="225.800" y="531" width="9.200" height="10"/><rect x="242.800" y="531" width="9.500" height="10.800"/><rect x="260.200" y="531" width="9.800" height="11.400"/>
  </g>
  <g fill="#6d7a80">
    <ellipse cx="230" cy="487.600" rx="2.800" ry="2.200"/><ellipse cx="247.200" cy="487.200" rx="2.800" ry="2.200"/><ellipse cx="265" cy="486.600" rx="2.800" ry="2.200"/>
  </g>
  <g fill="#3c3f42">
    <ellipse cx="230.400" cy="535.600" rx="3" ry="2.600"/><ellipse cx="247.600" cy="535.800" rx="3" ry="2.600"/><ellipse cx="265.400" cy="536.400" rx="3" ry="2.800"/>
  </g>
  <rect x="212.600" y="491.700" width="28" height="39.700" rx="1.600" fill="#6c6c6e"/>
  <rect x="240" y="491.400" width="42.700" height="40.400" rx="1.800" fill="#4b4b4d"/>
  <rect x="254" y="491.400" width="28.700" height="40.400" rx="1.800" fill="#555557"/>
  <rect x="276" y="492" width="6.700" height="39.400" rx="1.500" fill="#3a3a3c"/>
  <circle cx="272.800" cy="493.800" r="1.500" fill="#1c1c1c"/><circle cx="272.800" cy="528.400" r="1.500" fill="#1c1c1c"/>
  <circle cx="252.400" cy="494" r="1.400" fill="#1c1c1c"/><circle cx="253" cy="528.800" r="1.400" fill="#1c1c1c"/>
  <rect x="216" y="514.700" width="20.200" height="10.800" fill="#7c7c7e"/>
  <rect x="216" y="523" width="20.200" height="2.200" fill="#c9c9c9"/>
  <rect x="221.600" y="515" width="7.600" height="1.800" rx=".8" fill="#2b9b8c"/>
  <rect x="256.800" y="509.600" width="4.800" height="4.600" rx=".8" fill="#1f8a78"/>
  <path d="M214 500.600c0-5.400 4-8.200 9.600-8.200 4.800 0 8 2.200 9.400 5l-1 13c-2 2.400-5 3.400-8.400 3.400-5.600 0-9.600-3.200-9.600-8.200z" fill="#2a8f82"/>
  <path d="M205.800 502.600c0-3.400 2.600-5.600 6.400-5.800l62-0.600c4 0 6.200 2.400 6.200 5.400 0 3.200-2.400 5.600-6 5.800l-62 1c-4 0-6.600-2.600-6.600-5.800z" fill="#2f9e90"/>
  <path d="M208 500.600c1-2 2.600-3 5-3.200l60-.6c2 0 3.600.6 4.600 1.800" fill="none" stroke="#4fb8a9" stroke-width="1"/>
  <rect x="218" y="502" width="29" height="1.900" rx=".9" fill="#d9dcdc"/>
  <rect x="218" y="502" width="7" height="1.900" rx=".9" fill="#1c1c1c"/>
  <circle cx="212" cy="503.200" r="1.300" fill="#173f3a"/>
</g>

<g id="prod-tew5fgdc-a" filter="url(#soft)">
    <path d="M553 437.6L600 436.4L618 438.4L604 439.6L556 439.2Z" fill="#dedede" filter="url(#soft3)"/>
    <path d="M557.2 375.3L605.2 372.4L616 377.7L616 438.4L604.6 439.6L602.7 382L557.2 383Z" fill="url(#gMet)"/>
    <path d="M557.2 375.3L605.2 372.4L616 377.7L603.4 381.6L557.6 382.4Z" fill="#9aa0a7"/>
    <path d="M604.6 381.6L616 377.9L616 438.4L604.6 439.6Z" fill="#8d949c"/>
    <path d="M609.2 380.2L614.6 378.6L614.6 388.6L609.2 389.6Z" fill="#2e3033"/>
    <path d="M610.6 381.6L613.4 380.8L611.4 385.4Z" fill="#d5d8dc"/>
    <rect x="606" y="406.6" width="2.6" height="5" rx=".6" fill="#1f1f1f"/>
    <rect x="608.8" y="400.2" width="1.6" height="3.4" fill="#2c2c2c"/>
    <rect x="555.2" y="381.7" width="47.6" height="55.4" fill="#2d2d2f"/>
    <rect x="556" y="390.6" width="11.6" height="46" fill="#343436"/>
    <rect x="568" y="390.6" width="14.8" height="46" fill="#313133"/>
    <rect x="588" y="388" width="9.4" height="48" fill="#303032"/>
    <rect x="597.6" y="382" width="5.2" height="55" fill="#232325"/>
    <rect x="568" y="382.7" width="29" height="3.3" fill="#c98a35"/>
    <rect x="568" y="382.7" width="9" height="3.3" fill="#8a6128"/>
    <rect x="582.7" y="389.4" width="5.2" height="44.4" rx="1.4" fill="#0c0c0c"/>
    <path d="M584.1 395L587 395L586.6 410L587 427.6L584.6 427.6L584.4 410Z" fill="#e8853a"/>
    <rect x="569.9" y="403.2" width="5" height="4.9" rx=".5" fill="#e02a4c"/>
    <rect x="577.7" y="403.2" width="5" height="4.9" rx=".5" fill="#27b070"/>
    <rect x="570.4" y="412.2" width="4.4" height="1.6" fill="#b3242c"/>
    <rect x="577.4" y="412.2" width="5" height="1.6" fill="#9a9a9a"/>
    <rect x="588.4" y="401.6" width="8.4" height="2" fill="#c98a35"/>
    <rect x="589" y="405.6" width="6.6" height="5" fill="#5b4a2c"/>
    <rect x="590.6" y="411.6" width="6" height="2.8" fill="#8f8f8f"/>
    <rect x="588.4" y="416.8" width="8.6" height="2.2" fill="#c98a35"/>
    <circle cx="559" cy="398.6" r=".7" fill="#b62e2e"/>
  </g>
<g id="prod-tew5fgdc-b" transform="translate(297.5 218)" filter="url(#soft)">
    <path d="M553 437.6L600 436.4L618 438.4L604 439.6L556 439.2Z" fill="#dedede" filter="url(#soft3)"/>
    <path d="M557.2 375.3L605.2 372.4L616 377.7L616 438.4L604.6 439.6L602.7 382L557.2 383Z" fill="url(#gMet)"/>
    <path d="M557.2 375.3L605.2 372.4L616 377.7L603.4 381.6L557.6 382.4Z" fill="#9aa0a7"/>
    <path d="M604.6 381.6L616 377.9L616 438.4L604.6 439.6Z" fill="#8d949c"/>
    <path d="M609.2 380.2L614.6 378.6L614.6 388.6L609.2 389.6Z" fill="#2e3033"/>
    <path d="M610.6 381.6L613.4 380.8L611.4 385.4Z" fill="#d5d8dc"/>
    <rect x="606" y="406.6" width="2.6" height="5" rx=".6" fill="#1f1f1f"/>
    <rect x="608.8" y="400.2" width="1.6" height="3.4" fill="#2c2c2c"/>
    <rect x="555.2" y="381.7" width="47.6" height="55.4" fill="#2d2d2f"/>
    <rect x="556" y="390.6" width="11.6" height="46" fill="#343436"/>
    <rect x="568" y="390.6" width="14.8" height="46" fill="#313133"/>
    <rect x="588" y="388" width="9.4" height="48" fill="#303032"/>
    <rect x="597.6" y="382" width="5.2" height="55" fill="#232325"/>
    <rect x="568" y="382.7" width="29" height="3.3" fill="#c98a35"/>
    <rect x="568" y="382.7" width="9" height="3.3" fill="#8a6128"/>
    <rect x="582.7" y="389.4" width="5.2" height="44.4" rx="1.4" fill="#0c0c0c"/>
    <path d="M584.1 395L587 395L586.6 410L587 427.6L584.6 427.6L584.4 410Z" fill="#e8853a"/>
    <rect x="569.9" y="403.2" width="5" height="4.9" rx=".5" fill="#e02a4c"/>
    <rect x="577.7" y="403.2" width="5" height="4.9" rx=".5" fill="#27b070"/>
    <rect x="570.4" y="412.2" width="4.4" height="1.6" fill="#b3242c"/>
    <rect x="577.4" y="412.2" width="5" height="1.6" fill="#9a9a9a"/>
    <rect x="588.4" y="401.6" width="8.4" height="2" fill="#c98a35"/>
    <rect x="589" y="405.6" width="6.6" height="5" fill="#5b4a2c"/>
    <rect x="590.6" y="411.6" width="6" height="2.8" fill="#8f8f8f"/>
    <rect x="588.4" y="416.8" width="8.6" height="2.2" fill="#c98a35"/>
    <circle cx="559" cy="398.6" r=".7" fill="#b62e2e"/>
  </g>

<g id="prod-tem5dc" filter="url(#soft)">
  <path d="M556.400 491.500L566.200 489.700L566.200 548.500L556.400 546.600Z" fill="#1d1e20"/>
  <path d="M566.200 489.900L608.500 490.200L608.900 548.500L566.200 548.500Z" fill="#4b5059"/>
  <rect x="566.200" y="495.600" width="42.500" height="13.600" fill="#454a53"/>
  <rect x="566.200" y="533.600" width="42.500" height="9" fill="#40454d"/>
  <g fill="#1c1d20">
    <path d="M570.800 490L579 490L578 495.400L571.800 495.400Z"/><path d="M584 490L593.500 490L592.600 495.400L585 495.400Z"/><path d="M597.500 490L606 490L605.400 495.400L598.400 495.400Z"/>
    <path d="M571.600 543.400L579.200 543.400L579.800 548.500L571 548.500Z"/><path d="M584.600 543.400L592.600 543.400L593.200 548.500L584 548.500Z"/><path d="M598.200 543.400L605.600 543.400L606.200 548.500L597.600 548.500Z"/>
    <rect x="579.800" y="490" width="3.200" height="7" /><rect x="593.800" y="490" width="3" height="7"/>
    <rect x="579.800" y="541" width="3" height="7.500"/><rect x="593.600" y="541" width="3" height="7.500"/>
  </g>
  <rect x="567.100" y="509.900" width="41.800" height="2.400" fill="#e3a41f"/>
  <rect x="567.100" y="509.900" width="10" height="2.400" fill="#a97c22"/>
  <rect x="569.900" y="514.500" width="12" height="12.400" fill="#5d636c"/>
  <rect x="596" y="514.500" width="10.600" height="12.600" fill="#5d636c"/>
  <path d="M571.400 517.400h3M572 521h4M598 516.400h7M598 519h6M598 525h7M574 524.600h5" stroke="#aeb3ba" stroke-width=".8" fill="none"/>
  <rect x="585" y="514" width="8.400" height="18" rx="1" fill="#33363c"/>
  <rect x="586.500" y="520" width="5.600" height="7.400" fill="#101012"/>
  <path d="M586.400 514.600L592.800 513.800L592.200 519.200L587.800 520.600L586.400 519.600Z" fill="#e8903a"/>
  <rect x="586.500" y="527.300" width="4.600" height="1.900" fill="#c22a3a"/>
  <circle cx="579.500" cy="529.400" r="1.300" fill="#d2232f"/>
  <g fill="#24262a"><circle cx="568.400" cy="508" r=".8"/><circle cx="582" cy="508" r=".8"/><circle cx="595" cy="508" r=".8"/><circle cx="568.400" cy="535.600" r=".8"/><circle cx="582" cy="535.600" r=".8"/><circle cx="596.400" cy="535.600" r=".8"/></g>
</g>

<g id="prod-tgu3dc" filter="url(#soft)">
  <path d="M865.700 377.500v-2.200l4.800-.5v2.500zM882 376.400v-2.300l5-.5v2.600z" fill="#45b85a"/>
  <path d="M863.100 377.600L871.500 376.600L871.500 391L875 391.600L875 428.500L863.600 419.600Z" fill="#8b8b8b"/>
  <path d="M864.600 392L868.400 392.600L868.400 410L864.600 408.600Z" fill="#6f6f6f"/>
  <path d="M871.500 376.500L897.900 376.500L897.900 390.600L871.500 390.600Z" fill="#f0f0f0"/>
  <path d="M871.500 417L898.400 414.500L898.400 426L875 428.500L871.500 426Z" fill="#e4e4e4"/>
  <path d="M875 391L902.300 390.200L902.300 415L875 417.600Z" fill="#f6f6f6"/>
  <path d="M875 390.800L902.300 390" stroke="#c4c4c4" stroke-width=".9" fill="none"/>
  <path d="M884.200 391L884.200 417M893.500 390.600L893.500 416" stroke="#b5b5b5" stroke-width=".9" fill="none"/>
  <path d="M875.200 393.400L902 392.600" stroke="#d9d9d9" stroke-width="1.600" fill="none"/>
  <g fill="#111"><circle cx="875.700" cy="385.100" r="1.900"/><circle cx="884.900" cy="384.300" r="1.900"/><circle cx="893.800" cy="383.700" r="1.800"/></g>
  <g stroke="#b9b9b9" stroke-width=".6" fill="none"><path d="M876.600 396h6M876.600 398.600h5M877 402h5M877 406h5M877 410h5M886 395.600h6M886 398h5M886.400 401.600h5M886.400 405.600h5M886.400 409.400h5M895.400 395h6M895.400 397.400h5M895.600 401h5M895.600 405h5M895.600 408.600h5"/></g>
  <g fill="#6aa43a"><rect x="878" y="414.400" width="4" height="1.500"/><rect x="887" y="413.200" width="4" height="1.500"/><rect x="896.400" y="412.200" width="3.800" height="1.500"/></g>
</g>

<g id="prod-rt18" filter="url(#soft)">
  <path d="M868 540.600L900 539.600L896 542.400L870 542.400Z" fill="#ececec" filter="url(#soft2)"/>
  <path d="M871.200 485.100L881.800 485L881.800 499.800L886.800 502.600L886.800 532L881.800 533.900L881.800 541.700L871.700 537.500L871.700 522.800L872.700 521.600L872.700 501L871.200 499.600Z" fill="#8e9090"/>
  <path d="M881.800 484.700L892.800 484.700L892.800 499.800L881.800 499.800Z" fill="#f2f2f2"/>
  <path d="M871.200 485.100L873 484L892.800 484.700L881.800 485.400Z" fill="#dcdcdc"/>
  <path d="M886.800 499.400L898.300 499.400L898.300 511.300L886.800 511.300Z" fill="#f3f3f3"/>
  <path d="M885.600 502L887.800 500L887.800 512L885.600 514Z" fill="#c4c4c4"/>
  <path d="M886.800 511.300L895.600 511.300L895.600 532.500L886.800 532.500Z" fill="#fafafa"/>
  <path d="M881.800 532L893.300 532L893.300 541.700L881.800 541.700Z" fill="#ececec"/>
  <circle cx="887.600" cy="492.900" r="2.300" fill="#141414"/>
  <circle cx="887.500" cy="536.800" r="2.100" fill="#141414"/>
  <path d="M888 515h5M891 517v2M888 521.600h5.600M888 524h5M888.600 526.600h4" stroke="#a8a8a8" stroke-width=".7" fill="none"/>
  <g fill="#a08558"><circle cx="873.600" cy="497.600" r=".7"/><circle cx="873.800" cy="525.600" r=".7"/><circle cx="882.600" cy="522" r=".7"/></g>
</g>

<g id="prod-teb5" filter="url(#soft)">
  <path d="M1104 424L1122 414.600L1126 418L1110 427.600Z" fill="#d8d8d8" filter="url(#soft2)"/>
  <path d="M1086.200 375.800L1099.500 371.200L1119.800 373.500L1105 379Z" fill="#f1f1f1"/>
  <path d="M1086.200 375.800L1105 379L1105 390L1096.800 393.300L1086.200 389Z" fill="#e2e2e2"/>
  <path d="M1105 379L1119.800 373.500L1119.800 400.600L1120.400 405.200L1118.900 419L1104.100 426.800L1104.100 417.200L1096.800 411.700L1096.800 393.300L1105 390Z" fill="url(#gMcb)"/>
  <path d="M1086.700 412L1096.800 411.700L1104.100 417.200L1104.100 426.800L1086.700 422.600Z" fill="#e6e6e6"/>
  <path d="M1078.400 389.600L1088 387.200L1096.800 389L1096.800 393.600L1078.400 392.600Z" fill="#f3f3f3"/>
  <path d="M1078.400 391.600L1096.800 393.300L1096.800 398.400L1078.400 396.600Z" fill="#f2a43c"/>
  <path d="M1079.400 392.400l1.200 3.200M1081.400 392.600l1.200 3.200M1083.400 392.800l1.200 3.200M1087 394.600h8" stroke="#fff" stroke-width=".8" fill="none"/>
  <path d="M1078.400 396.600L1096.800 398.400L1096.800 409L1078.400 406.400Z" fill="#e98a16"/>
  <path d="M1079.300 398L1082.200 398.300L1082.200 406.400L1079.300 406Z" fill="#f1f1f1"/>
  <path d="M1086 398.800L1092 399.400L1092 408L1086 407.400Z" fill="#f1f1f1"/>
  <path d="M1088.600 399.200L1089.600 399.300L1089.600 407.600L1088.600 407.500Z" fill="#9a9a9a"/>
  <path d="M1078 405.200L1096.400 407.600L1096.400 413.600L1078 409.600Z" fill="url(#gOr)"/>
  <path d="M1079.400 409.800L1086.600 411.400L1086.600 416L1079.400 414Z" fill="#e9e9e9"/>
  <g fill="#2b3b34"><ellipse cx="1090.800" cy="380.900" rx="1.700" ry="2.100"/><ellipse cx="1100.500" cy="382.400" rx="1.700" ry="2.100"/></g>
  <g fill="#3a3a3a"><ellipse cx="1099.600" cy="373.500" rx="1.800" ry="1"/><ellipse cx="1109.200" cy="374.800" rx="1.800" ry="1"/><ellipse cx="1091" cy="420.400" rx="1.500" ry="1.700"/><ellipse cx="1100" cy="422.400" rx="1.500" ry="1.700"/></g>
  <rect x="1104.100" y="403.400" width="2.400" height="10.600" rx="1" fill="#2f9a3f"/>
</g>

<g id="prod-hr17n" filter="url(#soft)">
  <path d="M1081.600 495.400L1090.300 493.600L1090.300 536L1117.900 535L1117.900 542.600L1088.600 544.400L1081.600 541Z" fill="#858885"/>
  <path d="M1089.400 486L1096.800 483.300L1124.400 487.900L1124.800 535.700L1098.600 538.400L1089.400 539.400Z" fill="#9c9e9b"/>
  <path d="M1089.400 486L1096.800 483.300L1098 538.400L1089.400 539.400Z" fill="#8f918e"/>
  <path d="M1100 487.400L1116.100 489.400L1116.100 495.400L1100 494.400Z" fill="#fff"/>
  <path d="M1116.100 489.400L1120.600 490.600L1120.600 497L1116.100 495.400Z" fill="#7c7e7c"/>
  <path d="M1101.400 503.600c2-3 6-4.600 10-4.600 4 0 8 1.400 9.400 4.600z" fill="#4a4c4b"/>
  <path d="M1107 500.600l5 1.600 3-1.600" stroke="#c9c9c9" stroke-width=".8" fill="none"/>
  <path d="M1098.600 503.500L1123.400 503.500L1123.400 532L1098.600 532Z" fill="url(#gBlue)"/>
  <path d="M1098.600 503.500L1123.400 503.500L1123.400 508L1098.600 508Z" fill="#1aa0c2"/>
  <path d="M1106.600 504L1107.200 532M1114.600 504L1115 532" stroke="#0a4a60" stroke-width="1" fill="none"/>
  <path d="M1101 512v8M1104.400 514v7l1.600 2M1110.600 512v9l-1.400 3M1116.600 514v6M1119.600 512v9" stroke="#45d3ea" stroke-width="1.2" fill="none"/>
  <path d="M1098.600 527L1123.400 527L1123.400 532L1098.600 532Z" fill="#0d6280"/>
  <g fill="#2a4a48"><rect x="1082" y="511" width="4.600" height="2.700" rx="1"/><rect x="1082" y="514.900" width="4.600" height="2.700" rx="1"/><rect x="1082" y="518.800" width="4.600" height="2.700" rx="1"/></g>
  <path d="M1089.800 497.600l1.600 1.400v3" stroke="#c4c4c4" stroke-width=".8" fill="none"/>
</g>

<g id="prod-tew5f" filter="url(#soft)">
  <path d="M1074.200 601.700L1084 592.400L1084 652.600L1073.200 658.500Z" fill="url(#gSide)"/>
  <path d="M1075.800 603.600L1079.400 600.200L1079.400 610.400L1075.800 612Z" fill="#1f1f1f"/>
  <rect x="1075" y="616.600" width="2.600" height="1.500" fill="#333"/><rect x="1075" y="630.400" width="2.600" height="1.500" fill="#333"/><rect x="1075" y="636" width="2.600" height="1.500" fill="#333"/>
  <path d="M1083 629.600l2.400-1.200v6l-2.400 1z" fill="#d0d0d0"/>
  <path d="M1084 592.400L1134 596.800L1134 652.600L1084 652.600Z" fill="#1d1d1f"/>
  <path d="M1073.200 652.600L1134 652.600L1134.600 660L1073.200 659.400Z" fill="#2a2a2c"/>
  <path d="M1089.400 599.700L1131 601.200L1131 650.200L1089.400 650.200Z" fill="#56585b"/>
  <path d="M1101.600 606.400L1101.600 650" stroke="#3c3d40" stroke-width=".9"/>
  <path d="M1090.400 600.700L1129.100 602.200L1129.100 607.200L1090.400 605.800Z" fill="#e99b2b"/>
  <path d="M1090.400 600.700L1102.600 601.200L1102.600 606.300L1090.400 605.800Z" fill="#3a3328"/>
  <path d="M1091.400 601.400l1.600 4M1093.400 601.500l1.600 4M1095.400 601.600l1.600 4M1097.400 601.700l1.600 4M1099.400 601.800l1.600 4M1093 601.400l-1.600 4M1095 601.500l-1.600 4M1097 601.600l-1.600 4M1099 601.700l-1.600 4M1101 601.800l-1.600 4" stroke="#e99b2b" stroke-width=".6" fill="none"/>
  <rect x="1121.600" y="603.400" width="6.400" height="2.600" fill="#9c6a24"/>
  <rect x="1116.600" y="609" width="4.300" height="39.800" rx="1.200" fill="#0e0e0f"/>
  <path d="M1117.300 614L1120.200 614L1119.800 630L1120.200 647.600L1117.700 647.600L1117.500 630Z" fill="#f08c1e"/>
  <rect x="1104.900" y="620.500" width="4.700" height="4.300" rx=".5" fill="#e52a3c"/>
  <rect x="1112.200" y="620.500" width="4.500" height="4.300" rx=".5" fill="#2fc14a"/>
  <rect x="1104.600" y="629" width="5" height="1.500" fill="#f0a0a8"/>
  <rect x="1112" y="629" width="4.600" height="1.500" fill="#86d08a"/>
  <rect x="1109" y="631.400" width="3.400" height="1.200" fill="#c9c9c9"/>
  <rect x="1092.800" y="618.800" width="7" height="1.300" fill="#e99b2b"/>
  <rect x="1094.400" y="621" width="4.400" height="6.400" fill="#48494c"/>
  <path d="M1093.400 630v3.600M1095.600 630v3.600M1097.800 630v3.600" stroke="#d7922c" stroke-width="1.100"/>
  <path d="M1093.200 635.600l5.600 5M1098.800 635.600l-5.600 5" stroke="#c98828" stroke-width=".8"/>
  <rect x="1121.200" y="619.800" width="7.800" height="1.800" fill="#e99b2b"/>
  <path d="M1121.600 623h7M1121.600 625.400h6M1121.600 627.800h7M1121.600 630.200h6M1122 623v9M1125 625v7" stroke="#d7922c" stroke-width=".8" fill="none"/>
  <rect x="1121.200" y="632.800" width="7.800" height="1.700" fill="#e99b2b"/>
  <circle cx="1092.800" cy="615" r=".9" fill="#c22f2f"/>
  <g fill="#0c0c0c"><circle cx="1094" cy="657" r="1.500"/><circle cx="1110.400" cy="657" r="1.300"/><circle cx="1122.400" cy="657" r="1.200"/><circle cx="1127.600" cy="657" r="1.200"/><circle cx="1132" cy="657.400" r="1"/></g>
  <g fill="#d8822a"><circle cx="1104" cy="657" r="1.400"/><circle cx="1116.300" cy="657" r="1.400"/></g>
  <rect x="1074.600" y="654.600" width="9" height="4" fill="#3c3c3e"/>
</g>

<!-- product labels -->
<g id="labels">
<text class="pn" x="217.2" y="451.8" font-size="16" textLength="60.3" lengthAdjust="spacingAndGlyphs">TGEVC2</text>
<text class="pn" x="247.2" y="469.4" font-size="15.07" text-anchor="middle">直流接触器</text>
<text class="pn" x="222.2" y="571.8" font-size="16" textLength="48.9" lengthAdjust="spacingAndGlyphs">GL-DC</text>
<text class="pn" x="246.3" y="589.4" font-size="15.07" text-anchor="middle">直流隔离开关</text>
<text class="pn" x="542.9" y="461.8" font-size="16" textLength="87.0" lengthAdjust="spacingAndGlyphs">TeW5FGDC</text>
<text class="pn" x="586.5" y="479.4" font-size="15.07" text-anchor="middle">直流隔离开关</text>
<text class="pn" x="549.8" y="571.8" font-size="16" textLength="66.2" lengthAdjust="spacingAndGlyphs">TeM5DC</text>
<text class="pn" x="582.7" y="589.4" font-size="15.07" text-anchor="middle">直流塑壳断路器</text>
<text class="pn" x="851.9" y="450.6" font-size="16" textLength="65.0" lengthAdjust="spacingAndGlyphs">TGU3DC</text>
<text class="pn" x="884.2" y="468.4" font-size="15.07" text-anchor="middle">浪涌保护器</text>
<text class="pn" x="845.1" y="566.8" font-size="16" textLength="77.6" lengthAdjust="spacingAndGlyphs">RT18G-PV</text>
<text class="pn" x="883.5" y="584.4" font-size="15.07" text-anchor="middle">熔断器</text>
<text class="pn" x="839.8" y="679.9" font-size="16" textLength="87.0" lengthAdjust="spacingAndGlyphs">TeW5FGDC</text>
<text class="pn" x="883.3" y="697.6" font-size="15.07" text-anchor="middle">直流隔离开关</text>
<text class="pn" x="1085.6" y="453.6" font-size="16" textLength="38.0" lengthAdjust="spacingAndGlyphs">TeB5</text>
<text class="pn" x="1104.8" y="471.3" font-size="15.07" text-anchor="middle">微断开关</text>
<text class="pn" x="1081.6" y="565.8" font-size="16" textLength="54.0" lengthAdjust="spacingAndGlyphs">HR17N</text>
<text class="pn" x="1108.6" y="583.4" font-size="15.07" text-anchor="middle">熔断器式隔离开关</text>
<text class="pn" x="1078.1" y="679.9" font-size="16" textLength="52.9" lengthAdjust="spacingAndGlyphs">TeW5F</text>
<text class="pn" x="1104.2" y="697.6" font-size="15.07" text-anchor="middle">框架断路器</text>
</g>

</svg>
</div>
</body>
</html>
